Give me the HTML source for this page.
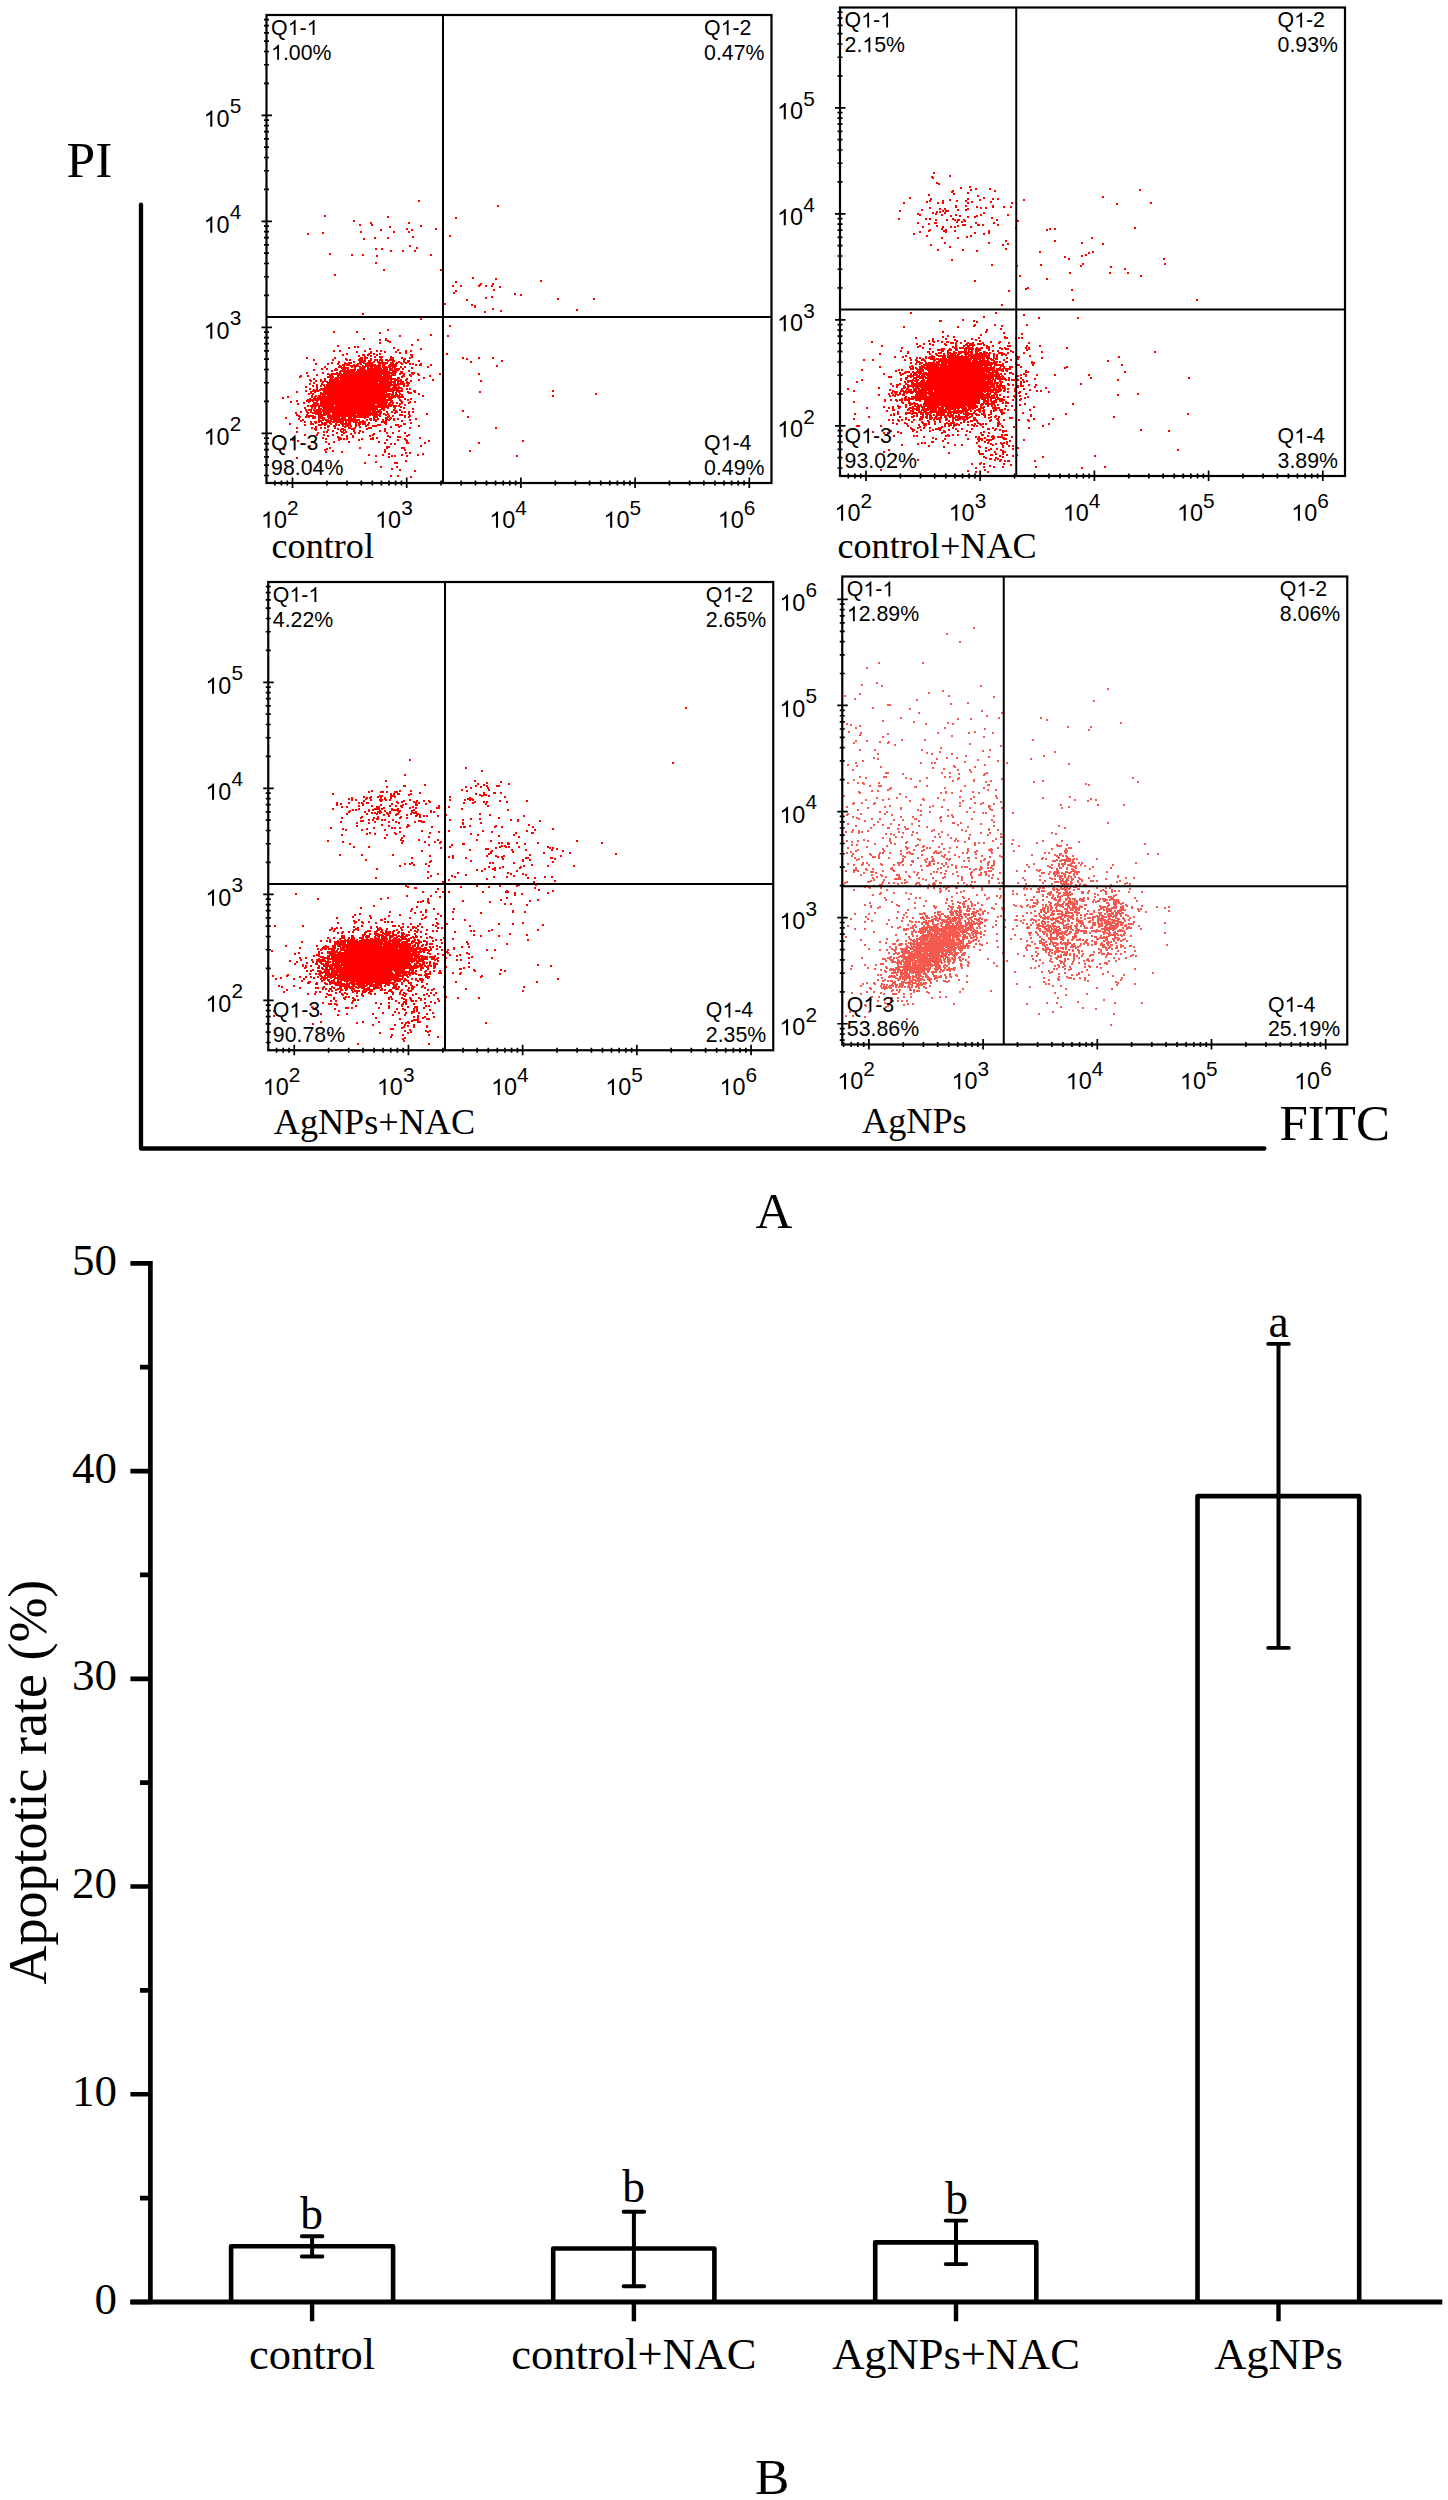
<!DOCTYPE html>
<html><head><meta charset="utf-8"><title>Figure</title>
<style>html,body{margin:0;padding:0;background:#fff;}svg{display:block;}</style>
</head><body>
<svg width="1448" height="2500" viewBox="0 0 1448 2500">
<rect width="1448" height="2500" fill="#fff"/>
<defs><path id="one" d="M763 0L583 0L583 1147Q518 1085 412.5 1023Q307 961 223 930L223 1104Q374 1175 487 1276Q600 1377 647 1472L763 1472Z"/></defs>
<path d="M418 200.5h2M418 201.5h2M497 205.5h2M497 206.5h2M324 215.5h2M324 216.5h2m61 0h2M387 217.5h2m66 0h2M455 218.5h2M353 220.5h2M353 221.5h2M370 222.5h2m36 0h2M370 223.5h2m36 0h2M359 224.5h2m10 0h2M359 225.5h2m10 0h2m47 0h2M389 226.5h2m29 0h2M389 227.5h2M406 228.5h2m27 0h2M380 229.5h2m24 0h2m3 0h2m22 0h2M380 230.5h2m29 0h2M360 231.5h2m31 0h2m13 0h2M322 232.5h2m36 0h2m31 0h2m13 0h2M307 233.5h2m13 0h2M307 234.5h2M449 235.5h2M412 236.5h2m35 0h2M374 237.5h2m11 0h2m23 0h2M363 238.5h2m9 0h2m11 0h2M363 239.5h2M409 245.5h2M409 246.5h2M416 247.5h2M375 248.5h2m4 0h2m33 0h2M375 249.5h2m4 0h2M390 250.5h2m10 0h2m10 0h2M390 251.5h2m10 0h2m10 0h2M329 253.5h2M329 254.5h2m20 0h2m9 0h2m66 0h2M351 255.5h2m9 0h2m12 0h2m52 0h2M376 256.5h2M375 262.5h2M375 263.5h2M383 269.5h2m55 0h2M383 270.5h2m55 0h2M334 274.5h2M334 275.5h2M472 277.5h2M472 278.5h2m21 0h2M495 279.5h2M540 280.5h2M455 281.5h2m83 0h2M455 282.5h2M480 283.5h2m10 0h2M479 284.5h3m10 0h2M452 285.5h2m6 0h2m16 0h3m4 0h2m4 0h2M452 286.5h2m6 0h2m16 0h2m5 0h2m4 0h2m6 0h2M499 287.5h2M493 289.5h2M455 290.5h2m36 0h2M455 291.5h2M453 292.5h2M453 293.5h2m59 0h2M514 294.5h2m4 0h2M520 295.5h2M491 296.5h2M485 297.5h2m4 0h2M485 298.5h2m70 0h2m34 0h2M466 299.5h2m89 0h2m34 0h2M466 300.5h2M444 303.5h2M444 304.5h2m25 0h2M471 305.5h2m1 0h2M474 306.5h2M474 307.5h2M492 308.5h2M492 309.5h2m82 0h2M500 310.5h2m74 0h2M484 311.5h2m14 0h2M484 312.5h2M362 313.5h2M362 314.5h2M420 318.5h2M420 319.5h2M449 325.5h2M449 326.5h2M387 329.5h2M387 330.5h2M333 331.5h2m21 0h2M333 332.5h2m21 0h2m21 0h2M379 333.5h2M430 334.5h2M399 335.5h2m29 0h2m15 0h2M399 336.5h2m46 0h2M363 338.5h2m20 0h2M363 339.5h2m14 0h2m4 0h2m30 0h2M379 340.5h2m4 0h4m28 0h2M387 341.5h4M379 342.5h2m8 0h2M379 343.5h2M411 344.5h2M337 345.5h2m72 0h2M337 346.5h2m15 0h2m1 0h2M348 347.5h2m4 0h2m1 0h2m34 0h2M348 348.5h2m19 0h2m22 0h2m25 0h2M369 349.5h2m26 0h2m21 0h2M333 350.5h2m4 0h2m23 0h2m10 0h2m2 0h2m15 0h2m6 0h2m3 0h2M333 351.5h2m4 0h2m15 0h2m6 0h2m4 0h2m4 0h2m2 0h2m2 0h2m9 0h2m8 0h2m3 0h2M356 352.5h2m12 0h2m12 0h2m9 0h2m2 0h2m4 0h2M346 353.5h2m20 0h4m1 0h2m4 0h2m18 0h2m4 0h2m39 0h2M342 354.5h2m2 0h2m14 0h3m2 0h3m3 0h2m1 0h2m1 0h2m29 0h3m33 0h2M342 355.5h2m14 0h2m2 0h3m2 0h2m1 0h2m4 0h2m32 0h3M358 356.5h2m4 0h2m4 0h2m2 0h2m3 0h4m7 0h2m19 0h2M306 357.5h2m26 0h2m24 0h3m1 0h4m6 0h2m3 0h4m7 0h4m7 0h2m6 0h4m49 0h2m14 0h2m12 0h2M306 358.5h2m26 0h2m9 0h2m12 0h4m1 0h4m2 0h2m8 0h2m8 0h4m7 0h2m1 0h2m3 0h2m51 0h2m2 0h2m10 0h2m12 0h2M313 359.5h2m17 0h2m11 0h3m1 0h2m7 0h5m1 0h2m4 0h2m2 0h4m1 0h4m2 0h3m1 0h5m9 0h3m60 0h2M313 360.5h2m17 0h2m12 0h2m1 0h2m7 0h8m2 0h4m2 0h4m1 0h4m2 0h10m8 0h2m2 0h3m8 0h2m81 0h2M338 361.5h2m13 0h2m4 0h7m2 0h3m2 0h2m2 0h3m1 0h2m4 0h2m3 0h3m3 0h2m3 0h2m2 0h3m8 0h2m50 0h2m29 0h2M331 362.5h2m5 0h2m4 0h2m2 0h4m1 0h2m4 0h6m2 0h8m2 0h11m2 0h4m2 0h6m1 0h6m61 0h2M315 363.5h2m10 0h2m2 0h2m4 0h2m5 0h8m5 0h5m1 0h10m5 0h10m2 0h4m1 0h3m2 0h3m2 0h2m2 0h2m1 0h2m6 0h2M315 364.5h2m10 0h2m8 0h2m3 0h8m3 0h2m1 0h3m1 0h2m3 0h11m2 0h3m1 0h4m3 0h8m4 0h2m6 0h2m1 0h2m1 0h2m2 0h3m8 0h2M339 365.5h2m1 0h3m1 0h13m3 0h2m1 0h16m1 0h3m3 0h9m18 0h2m2 0h3m8 0h2m64 0h2M324 366.5h2m12 0h4m1 0h2m5 0h11m1 0h19m1 0h5m1 0h9m3 0h2m2 0h2m21 0h2m67 0h2M324 367.5h2m12 0h11m2 0h2m1 0h2m3 0h7m1 0h2m1 0h3m1 0h7m1 0h9m1 0h4m4 0h2m2 0h2m5 0h2m14 0h2m13 0h2M321 368.5h2m3 0h2m7 0h2m4 0h8m5 0h2m3 0h6m2 0h15m1 0h5m1 0h4m1 0h6m2 0h2m7 0h2m29 0h2M313 369.5h2m6 0h2m3 0h2m6 0h4m4 0h4m1 0h2m1 0h6m1 0h9m1 0h21m1 0h4m1 0h6m2 0h2M313 370.5h2m16 0h2m1 0h4m2 0h16m1 0h31m1 0h10m9 0h2M331 371.5h2m6 0h16m1 0h34m2 0h5m3 0h3m5 0h2M306 372.5h2m14 0h2m12 0h2m1 0h2m2 0h54m3 0h3m8 0h4M306 373.5h2m14 0h2m3 0h2m2 0h11m1 0h53m3 0h6m6 0h4m2 0h2m20 0h2m37 0h2M316 374.5h2m9 0h63m1 0h5m3 0h2m2 0h2m4 0h2m1 0h2m3 0h3m19 0h2m37 0h2M300 375.5h2m5 0h2m7 0h2m11 0h4m4 0h45m1 0h13m6 0h3m4 0h3m6 0h2m9 0h2M299 376.5h3m5 0h2m18 0h7m3 0h2m1 0h52m9 0h4m5 0h2m17 0h2M299 377.5h2m26 0h7m1 0h57m5 0h3m1 0h2m20 0h2M313 378.5h2m9 0h2m4 0h3m1 0h62m1 0h3m6 0h2m15 0h2M309 379.5h2m2 0h2m5 0h2m2 0h2m3 0h10m1 0h59m1 0h2m3 0h3m10 0h2m12 0h2M309 380.5h3m3 0h2m3 0h2m2 0h2m3 0h60m1 0h2m2 0h8m3 0h2m3 0h2m6 0h2m12 0h2m46 0h2M310 381.5h2m3 0h2m3 0h8m1 0h67m1 0h7m2 0h2m2 0h2m68 0h2M313 382.5h2m7 0h2m2 0h52m1 0h17m1 0h2m1 0h4m2 0h4M309 383.5h2m2 0h2m6 0h2m4 0h65m1 0h3m1 0h8m1 0h4M309 384.5h2m5 0h2m3 0h4m1 0h79m2 0h2M312 385.5h2m2 0h2m2 0h2m1 0h2m1 0h73m4 0h2m1 0h3M305 386.5h2m5 0h2m2 0h2m2 0h2m2 0h67m2 0h4m1 0h2m3 0h2m1 0h2M305 387.5h2m9 0h2m6 0h66m2 0h10M309 388.5h2m5 0h2m2 0h83m3 0h2m1 0h2M309 389.5h2m2 0h2m1 0h2m1 0h80m2 0h2m3 0h2m1 0h2M305 390.5h2m5 0h9m1 0h81m10 0h3m136 0h2M296 391.5h2m7 0h2m3 0h9m4 0h71m2 0h7m4 0h2m4 0h3m63 0h2m71 0h2M296 392.5h2m12 0h2m2 0h2m4 0h2m1 0h64m5 0h2m1 0h2m1 0h2m7 0h5m2 0h2m63 0h2M308 393.5h6m6 0h65m1 0h5m1 0h2m1 0h2m2 0h2m7 0h4m6 0h2m175 0h2M308 394.5h2m2 0h2m6 0h74m1 0h3m1 0h4m15 0h2m175 0h2M311 395.5h2m2 0h2m1 0h3m1 0h4m1 0h63m1 0h9m1 0h2m19 0h2m128 0h2M287 396.5h2m22 0h2m1 0h3m1 0h86m18 0h2m128 0h2M282 397.5h2m3 0h2m22 0h2m1 0h2m1 0h79m1 0h7M282 398.5h2m25 0h2m2 0h73m2 0h5m5 0h2m4 0h2m4 0h2M307 399.5h85m7 0h2m3 0h2m1 0h2m1 0h2M296 400.5h2m8 0h13m1 0h73m6 0h3m5 0h2M290 401.5h2m4 0h2m8 0h5m1 0h2m2 0h2m2 0h68m2 0h3m7 0h3m6 0h2m3 0h2M290 402.5h2m11 0h2m3 0h2m3 0h5m2 0h68m1 0h5m2 0h2m3 0h2m5 0h3m3 0h2M297 403.5h2m4 0h2m8 0h6m1 0h67m1 0h3m1 0h2m2 0h2m1 0h4m5 0h2M297 404.5h2m13 0h7m1 0h55m2 0h10m1 0h5m6 0h2m3 0h2M307 405.5h2m1 0h24m1 0h62m1 0h2m4 0h2M307 406.5h2m1 0h7m1 0h74m1 0h4m1 0h4M304 407.5h2m5 0h2m1 0h2m2 0h2m2 0h67m4 0h3m4 0h2m1 0h2M304 408.5h2m5 0h2m1 0h2m2 0h4m1 0h55m3 0h4m2 0h2m5 0h2m7 0h2m7 0h2M305 409.5h2m1 0h4m1 0h2m1 0h62m1 0h6m8 0h2m4 0h2m11 0h2M305 410.5h2m1 0h4m1 0h8m1 0h54m1 0h4m2 0h2m8 0h4m2 0h2m61 0h2M300 411.5h2m4 0h2m2 0h2m2 0h57m1 0h10m4 0h2m3 0h2m2 0h3m3 0h2m1 0h2m2 0h2m2 0h2m48 0h2M295 412.5h2m3 0h2m4 0h3m1 0h12m1 0h59m4 0h2m3 0h2m1 0h4m3 0h2m1 0h2m2 0h2m2 0h2M295 413.5h2m10 0h2m3 0h10m1 0h7m2 0h46m1 0h3m1 0h2m2 0h2m5 0h2m12 0h2m16 0h2M296 414.5h2m8 0h2m7 0h16m1 0h24m1 0h24m2 0h6m10 0h4m5 0h2m16 0h2M296 415.5h4m6 0h8m4 0h8m1 0h44m1 0h9m4 0h2m1 0h2m2 0h2m5 0h4m1 0h2m3 0h2M298 416.5h3m4 0h11m2 0h5m4 0h42m4 0h5m1 0h2m6 0h3m2 0h2m10 0h2m2 0h3m56 0h2M285 417.5h2m12 0h2m4 0h2m1 0h2m2 0h4m2 0h7m2 0h13m1 0h5m2 0h4m1 0h16m4 0h5m7 0h4m1 0h2m12 0h2m2 0h2m57 0h2M285 418.5h2m11 0h2m12 0h4m2 0h7m3 0h18m2 0h8m8 0h2m3 0h3m1 0h2m2 0h2m6 0h3m1 0h3m1 0h2m2 0h2m16 0h2M298 419.5h2m2 0h2m14 0h2m2 0h7m1 0h30m6 0h2m1 0h3m1 0h6m3 0h2m1 0h6m2 0h2m2 0h2m10 0h2m4 0h2M300 420.5h4m14 0h6m1 0h7m1 0h27m2 0h2m2 0h2m2 0h2m1 0h4m5 0h2m1 0h2m1 0h2m3 0h2m6 0h2m6 0h2M300 421.5h2m2 0h2m4 0h2m2 0h3m1 0h4m4 0h18m1 0h2m1 0h10m1 0h7m9 0h2m4 0h6m14 0h2M304 422.5h2m4 0h2m2 0h3m1 0h2m1 0h2m1 0h7m1 0h3m1 0h8m1 0h2m1 0h3m2 0h13m2 0h2m11 0h6m23 0h2M289 423.5h2m19 0h4m1 0h2m4 0h6m2 0h3m3 0h2m3 0h11m4 0h2m1 0h3m1 0h4m2 0h2m14 0h3m16 0h3m4 0h2M289 424.5h2m13 0h2m4 0h4m4 0h9m3 0h2m3 0h2m1 0h2m1 0h10m4 0h2m1 0h3m1 0h4m1 0h2m8 0h4m4 0h2m8 0h4m4 0h3M304 425.5h2m12 0h4m2 0h2m1 0h3m3 0h4m1 0h2m2 0h2m1 0h7m3 0h2m1 0h2m5 0h4m3 0h9m14 0h4m1 0h2m16 0h2M315 426.5h2m10 0h3m3 0h3m6 0h7m1 0h2m3 0h2m2 0h2m4 0h2m5 0h5m13 0h2m6 0h4m16 0h2M296 427.5h2m13 0h2m2 0h2m3 0h2m2 0h2m1 0h2m5 0h2m8 0h2m2 0h3m3 0h2m3 0h2m7 0h4m18 0h2m6 0h2m9 0h2m84 0h2M296 428.5h2m13 0h2m1 0h3m3 0h2m2 0h2m8 0h2m1 0h2m2 0h3m4 0h8m10 0h6m12 0h2m23 0h2m84 0h2M314 429.5h3m10 0h2m8 0h2m1 0h6m5 0h4m11 0h2m16 0h2M315 430.5h2m10 0h2m3 0h2m6 0h2m1 0h3m7 0h2m4 0h2m18 0h2m3 0h2m12 0h2M296 431.5h2m25 0h2m1 0h2m4 0h2m6 0h4m1 0h2m6 0h2m4 0h2m1 0h2m15 0h2m3 0h2m12 0h2M296 432.5h2m19 0h2m4 0h2m1 0h2m8 0h2m3 0h6m7 0h2m2 0h2m2 0h2m22 0h2m4 0h2m10 0h2M317 433.5h2m17 0h2m5 0h2m5 0h2m2 0h2m2 0h2m13 0h2m11 0h2m4 0h2m10 0h2M304 434.5h2m10 0h2m5 0h2m7 0h2m7 0h2m7 0h2m20 0h3m33 0h2M304 435.5h2m10 0h2m5 0h2m2 0h2m3 0h2m7 0h2m3 0h2m4 0h2m15 0h2m1 0h2m13 0h2m17 0h4M281 436.5h2m44 0h2m8 0h2m7 0h2m4 0h2m15 0h2m16 0h4m6 0h4m5 0h2M281 437.5h2m39 0h2m13 0h4m5 0h2m4 0h2m18 0h2m2 0h2m11 0h2m6 0h4m18 0h2M322 438.5h2m1 0h2m11 0h4m1 0h2m1 0h2m13 0h2m7 0h4m2 0h2m26 0h2m13 0h2M292 439.5h2m31 0h2m11 0h4m1 0h2m1 0h2m10 0h2m1 0h2m7 0h4m12 0h2m9 0h2m5 0h3M292 440.5h2m3 0h2m15 0h2m22 0h2m18 0h2m26 0h2m9 0h2m6 0h3m20 0h2m92 0h2M297 441.5h2m12 0h2m1 0h2m9 0h2m6 0h2m13 0h2m28 0h2m26 0h2m20 0h2m92 0h2M311 442.5h2m12 0h2m6 0h2m13 0h2m28 0h2m4 0h2m20 0h3m15 0h2m52 0h2M301 443.5h2m25 0h2m54 0h2m4 0h2m2 0h2m10 0h3m15 0h2m52 0h2M301 444.5h2m25 0h2m60 0h2m2 0h2M309 445.5h2m109 0h2M309 446.5h2m75 0h4m30 0h2M329 447.5h2m28 0h2m25 0h4m11 0h4M283 448.5h2m41 0h2m1 0h2m28 0h2m25 0h2m13 0h4M283 449.5h2m39 0h4m56 0h2m18 0h2M324 450.5h2m6 0h2m50 0h2m18 0h2m63 0h2M325 451.5h2m5 0h2m7 0h2m41 0h2m83 0h2M325 452.5h2m14 0h2m41 0h2m19 0h2m2 0h2M388 453.5h2m15 0h2m2 0h2m11 0h2M368 454.5h2m12 0h2m4 0h2m11 0h2m14 0h2m3 0h2M368 455.5h2m5 0h2m5 0h2m7 0h2m1 0h2m5 0h2m3 0h2m9 0h2m97 0h2M375 456.5h2m11 0h2m1 0h2m1 0h2m10 0h2m108 0h2M296 457.5h2m90 0h2M296 458.5h2M405 460.5h2M375 461.5h2m28 0h2M364 462.5h2m9 0h2m17 0h4M364 463.5h2m28 0h4M319 466.5h2m59 0h2m14 0h2M319 467.5h2m59 0h2m14 0h2M391 468.5h2M391 469.5h2m6 0h2M399 470.5h2m13 0h2M414 471.5h2M390 475.5h2m5 0h2M390 476.5h2m5 0h2m11 0h2M410 477.5h2" stroke="#ff0000" stroke-width="1" fill="none" shape-rendering="crispEdges"/>
<path d="M933 172.5h2M933 173.5h2M949 175.5h2M931 176.5h2m16 0h2M931 177.5h3M932 178.5h2M936 182.5h2M936 183.5h4M938 184.5h2M969 186.5h2M960 187.5h2m7 0h2M960 188.5h2m13 0h2m12 0h2M970 189.5h2m3 0h2m12 0h2m148 0h2M952 190.5h2m16 0h2m22 0h2m143 0h2M951 191.5h3m40 0h2M951 192.5h2m14 0h2M953 193.5h2m12 0h2M928 194.5h2m23 0h2M928 195.5h2m47 0h2M977 196.5h2m123 0h2M909 197.5h2m72 0h2m117 0h2M909 198.5h2m19 0h2m35 0h2m14 0h2m7 0h2m3 0h2M930 199.5h2m17 0h2m16 0h2m10 0h2m11 0h2m3 0h2m24 0h2M929 200.5h2m11 0h2m5 0h2m5 0h2m7 0h2m12 0h2m42 0h2M926 201.5h2m1 0h2m11 0h2m12 0h2m7 0h2m4 0h2m17 0h2M903 202.5h2m21 0h2m9 0h2m3 0h2m23 0h2m2 0h2m17 0h2m19 0h2m137 0h2M903 203.5h2m32 0h2m3 0h2m23 0h2m42 0h2m103 0h2m32 0h2M1116 204.5h2M955 205.5h2m8 0h2m25 0h2M955 206.5h2m8 0h2m9 0h2m14 0h2m9 0h2m5 0h2M929 207.5h2m24 0h2m19 0h2m2 0h2m3 0h2m5 0h2m9 0h2m5 0h2M929 208.5h2m8 0h2m3 0h2m21 0h2m11 0h2m3 0h2M921 209.5h2m16 0h2m3 0h2m11 0h2m6 0h4M899 210.5h2m20 0h2m19 0h2m1 0h4m8 0h2m6 0h2M899 211.5h2m35 0h2m1 0h2m1 0h2m1 0h4M932 212.5h2m2 0h2m1 0h2m3 0h2m37 0h2M917 213.5h2m13 0h2m1 0h2m7 0h2m37 0h2M917 214.5h4m14 0h2m4 0h2m12 0h2m23 0h2m25 0h2M919 215.5h2m20 0h2m7 0h2m3 0h2m2 0h2m15 0h2m2 0h2m25 0h2M950 216.5h2m7 0h2m6 0h2m5 0h4M967 217.5h2m5 0h2m15 0h2M898 218.5h2m25 0h2m2 0h2m21 0h2m37 0h2M898 219.5h2m25 0h2m2 0h2m4 0h2m9 0h2m4 0h4m1 0h3m3 0h2m31 0h2M935 220.5h2m9 0h2m6 0h2m1 0h3m3 0h3m30 0h2m19 0h2M956 221.5h2m3 0h2m1 0h2m51 0h2M917 222.5h2m15 0h3m19 0h2m3 0h2m12 0h2m16 0h2M917 223.5h2m9 0h2m4 0h3m38 0h2m16 0h2M928 224.5h2m32 0h4m11 0h3m2 0h2m13 0h2M936 225.5h2m19 0h2m3 0h4m11 0h3m2 0h2m13 0h2M922 226.5h2m12 0h2m4 0h2m6 0h2m2 0h2m1 0h2m11 0h2M922 227.5h2m18 0h2m6 0h2m2 0h2m14 0h2m43 0h2m117 0h2M941 228.5h2m72 0h2m32 0h2m3 0h2m78 0h2M929 229.5h2m10 0h2m2 0h2m99 0h2m1 0h2m3 0h2M928 230.5h3m12 0h4m7 0h2m32 0h2m56 0h2M919 231.5h2m7 0h2m13 0h4m7 0h2m32 0h2M919 232.5h2m24 0h2m27 0h2m12 0h2M913 233.5h2m59 0h2m7 0h2m3 0h2M913 234.5h2m68 0h2M926 235.5h2m42 0h2M926 236.5h2m38 0h2m2 0h2M941 237.5h2m14 0h2m7 0h2m123 0h2M941 238.5h2m14 0h2m132 0h2M1005 240.5h2m47 0h2M1005 241.5h2m47 0h2M944 242.5h2m42 0h2m91 0h2M944 243.5h2m42 0h2m17 0h2m72 0h2m19 0h2M930 244.5h2m70 0h2m3 0h2m93 0h2M930 245.5h2m70 0h2M949 246.5h2M949 247.5h2M1005 248.5h2M937 249.5h2m23 0h2m41 0h2M937 250.5h2m23 0h2m12 0h2M976 251.5h2m61 0h2m51 0h2M1039 252.5h2m47 0h2m2 0h2M1088 253.5h2M1085 254.5h2M1081 255.5h2m2 0h2M1064 256.5h2m15 0h2M1064 257.5h2M1068 258.5h2m93 0h2M951 259.5h2m115 0h2m93 0h2M951 260.5h2M1082 263.5h2m80 0h2M991 264.5h2m47 0h2m40 0h2m80 0h2M991 265.5h2m23 0h2m22 0h2m38 0h2M1016 266.5h2m62 0h2m28 0h2M1110 267.5h2M1124 268.5h2M1124 269.5h2M1069 272.5h2m38 0h2m16 0h2M1069 273.5h2m38 0h2m16 0h2M1019 275.5h2m119 0h2M1019 276.5h2m119 0h2M1046 278.5h2M1046 279.5h2M974 280.5h2M974 281.5h2M1027 287.5h2M1025 288.5h4M1025 289.5h2m44 0h2M1008 290.5h2m61 0h2M1008 291.5h2M1072 299.5h2m122 0h2M1072 300.5h2m122 0h2M1001 304.5h2M1001 305.5h2M910 312.5h2m83 0h2M910 313.5h2m83 0h2M1023 314.5h2M1023 315.5h2M983 316.5h2M983 317.5h2m53 0h2m37 0h2M1038 318.5h2m37 0h2M962 319.5h2M939 320.5h3m20 0h2m9 0h2M939 321.5h3m31 0h2m1 0h2M976 322.5h2M974 324.5h2m18 0h2m30 0h2M973 325.5h3m18 0h2m5 0h2m23 0h2M903 326.5h2m52 0h2m14 0h2m26 0h2M903 327.5h2m52 0h2M1000 328.5h2M986 329.5h2m12 0h2M986 330.5h2M942 331.5h2m41 0h2M942 332.5h2m41 0h2m16 0h2M1003 333.5h2m16 0h2M980 334.5h2m39 0h2M947 335.5h2m31 0h2M942 336.5h2m3 0h2m4 0h2m49 0h2M915 337.5h2m25 0h2m9 0h2m23 0h2m24 0h4m7 0h2m1 0h2m1 0h2M915 338.5h2m15 0h2m11 0h2m24 0h2m5 0h2m24 0h4m7 0h2m1 0h2m1 0h2M932 339.5h2m11 0h2m7 0h2m15 0h2m2 0h2M928 340.5h2m2 0h2m3 0h2m15 0h4m6 0h2m9 0h2m2 0h2M871 341.5h2m55 0h2m2 0h3m2 0h2m2 0h2m3 0h3m7 0h2m6 0h2m13 0h2m9 0h2m7 0h2M871 342.5h2m60 0h2m6 0h2m3 0h3m1 0h4m1 0h2m3 0h2m5 0h2m3 0h2m8 0h2m6 0h2m6 0h3m7 0h2m18 0h2M916 343.5h2m5 0h2m4 0h2m13 0h2m4 0h4m1 0h2m3 0h2m4 0h8m3 0h7m14 0h2m8 0h2m18 0h2M916 344.5h2m5 0h2m4 0h2m1 0h2m10 0h3m8 0h2m8 0h3m1 0h6m2 0h5m1 0h2M881 345.5h2m36 0h2m11 0h2m11 0h2m8 0h2m6 0h12m8 0h2m1 0h2m4 0h2m13 0h4m15 0h2m11 0h2M881 346.5h2m34 0h4m31 0h2m1 0h2m6 0h2m2 0h3m2 0h2m12 0h4m2 0h2m13 0h4m15 0h2m11 0h2M901 347.5h2m14 0h2m3 0h2m28 0h5m2 0h5m1 0h8m3 0h2m2 0h3m3 0h4m9 0h2m3 0h2m19 0h2m1 0h2m36 0h2M901 348.5h2m19 0h2m5 0h2m10 0h4m4 0h2m3 0h4m1 0h15m1 0h8m3 0h4m9 0h4m1 0h5m16 0h2m1 0h2m36 0h2M929 349.5h2m6 0h8m3 0h4m3 0h3m6 0h3m1 0h6m1 0h6m7 0h2m11 0h2m2 0h4m17 0h4M900 350.5h2m35 0h7m3 0h5m3 0h3m6 0h3m1 0h2m1 0h2m2 0h6m7 0h2m2 0h2m3 0h2m11 0h2m14 0h2M900 351.5h2m5 0h2m18 0h3m2 0h2m7 0h3m3 0h2m4 0h2m3 0h9m1 0h5m2 0h4m4 0h3m6 0h2m3 0h2m11 0h4m27 0h2m111 0h2M907 352.5h2m18 0h3m2 0h2m4 0h4m5 0h4m2 0h4m1 0h15m2 0h3m1 0h3m1 0h5m1 0h2m7 0h5m4 0h2m3 0h2m9 0h2m16 0h2m111 0h2M879 353.5h2m26 0h2m20 0h2m4 0h2m1 0h4m1 0h2m2 0h10m1 0h4m2 0h5m1 0h3m2 0h16m2 0h2m3 0h7m2 0h2m14 0h2M879 354.5h2m48 0h2m4 0h3m5 0h2m2 0h2m1 0h6m1 0h3m4 0h23m1 0h2m3 0h2m1 0h2m3 0h6m8 0h2M905 355.5h2m24 0h2m3 0h10m1 0h12m2 0h2m2 0h2m1 0h22m3 0h2m1 0h2m3 0h2m2 0h2m8 0h2m12 0h2M894 356.5h2m6 0h2m1 0h2m18 0h2m2 0h6m3 0h8m1 0h43m3 0h2m1 0h2m18 0h4m9 0h2m87 0h2M894 357.5h2m6 0h2m5 0h2m5 0h2m1 0h2m4 0h2m1 0h7m7 0h4m1 0h22m1 0h15m1 0h4m3 0h2m1 0h2m8 0h2m8 0h4m21 0h2m75 0h2M909 358.5h2m5 0h2m1 0h2m1 0h2m1 0h2m1 0h7m1 0h3m1 0h7m1 0h37m1 0h6m1 0h5m8 0h2m9 0h2m22 0h2M863 359.5h2m7 0h2m30 0h2m4 0h2m3 0h2m4 0h4m5 0h42m1 0h8m1 0h3m2 0h2m1 0h4m1 0h3m5 0h2m5 0h2m5 0h2M863 360.5h2m7 0h2m30 0h2m4 0h2m3 0h3m3 0h5m7 0h3m2 0h33m1 0h6m1 0h10m2 0h4m8 0h2m5 0h2m95 0h2M916 361.5h4m4 0h2m7 0h2m1 0h35m1 0h18m3 0h5m1 0h2m4 0h3m23 0h2m74 0h2M910 362.5h2m4 0h7m2 0h2m1 0h7m1 0h4m1 0h57m1 0h2m4 0h3m7 0h2m14 0h4M910 363.5h2m3 0h2m2 0h4m2 0h15m1 0h56m5 0h2m11 0h2m14 0h4M915 364.5h2m2 0h2m2 0h24m1 0h45m1 0h10m12 0h4m12 0h2m87 0h2M911 365.5h2m8 0h71m2 0h10m12 0h4m12 0h2m87 0h2M879 366.5h2m28 0h5m5 0h6m1 0h13m1 0h43m1 0h4m2 0h2m1 0h2m5 0h5m4 0h4m7 0h2m44 0h2M879 367.5h2m28 0h2m1 0h2m1 0h2m2 0h76m4 0h2m2 0h2m4 0h4m7 0h2m42 0h4M910 368.5h4m1 0h3m1 0h4m1 0h71m1 0h5m1 0h9m53 0h2M861 369.5h2m35 0h2m1 0h2m7 0h4m2 0h8m1 0h70m1 0h8m1 0h6M861 370.5h2m32 0h2m1 0h2m1 0h2m14 0h7m3 0h77m1 0h3m17 0h2M895 371.5h2m8 0h5m2 0h2m2 0h8m4 0h62m2 0h6m3 0h3m2 0h2m17 0h4m95 0h2M899 372.5h2m3 0h6m2 0h10m1 0h4m1 0h57m1 0h13m10 0h3m13 0h4m95 0h2M883 373.5h2m14 0h2m1 0h4m4 0h2m1 0h4m1 0h69m1 0h6m1 0h4m1 0h2m2 0h2m3 0h5m9 0h2M883 374.5h2m15 0h4m6 0h2m1 0h5m1 0h2m1 0h80m2 0h2m6 0h2m6 0h2m1 0h4m9 0h2m16 0h2m32 0h2M900 375.5h2m5 0h13m1 0h4m1 0h74m1 0h2m12 0h4m1 0h2m3 0h2m9 0h2m16 0h2m32 0h2M888 376.5h4m15 0h7m2 0h10m1 0h77m11 0h4m6 0h2M888 377.5h4m13 0h3m2 0h2m1 0h81m1 0h6m1 0h3m3 0h2m5 0h2m3 0h2m68 0h2m96 0h2M900 378.5h2m3 0h3m5 0h4m2 0h5m1 0h69m1 0h11m2 0h2m5 0h3m2 0h2m12 0h2m54 0h2m96 0h2M861 379.5h2m37 0h2m3 0h2m5 0h2m1 0h4m3 0h3m2 0h64m1 0h4m1 0h10m1 0h2m1 0h4m1 0h3m3 0h2m10 0h2m81 0h2M861 380.5h2m37 0h2m5 0h12m2 0h4m1 0h60m1 0h6m1 0h2m3 0h2m4 0h2m1 0h2m1 0h4m1 0h3m3 0h2m2 0h2m89 0h2M856 381.5h2m46 0h2m1 0h6m1 0h4m2 0h5m1 0h67m1 0h2m3 0h4m17 0h2m1 0h2m1 0h2M856 382.5h2m46 0h2m1 0h2m2 0h3m2 0h77m1 0h5m1 0h3m17 0h2m1 0h2M890 383.5h2m7 0h2m4 0h2m4 0h88m1 0h2m5 0h2m11 0h2m58 0h2M890 384.5h2m4 0h5m4 0h4m2 0h84m1 0h2m1 0h3m5 0h3m2 0h2m6 0h2m6 0h2m5 0h2m43 0h2M892 385.5h2m2 0h3m4 0h2m2 0h82m1 0h5m1 0h9m3 0h2m2 0h2m3 0h2m1 0h4m4 0h2m5 0h2M892 386.5h2m2 0h2m5 0h3m1 0h88m1 0h9m12 0h2m1 0h4m10 0h2M878 387.5h2m16 0h2m5 0h3m1 0h2m3 0h2m1 0h4m1 0h75m1 0h5m1 0h4m11 0h2m15 0h2m9 0h2M847 388.5h2m29 0h2m21 0h4m1 0h3m4 0h7m1 0h70m2 0h4m1 0h3m1 0h4m1 0h2m5 0h2m7 0h2m20 0h2M847 389.5h2m40 0h2m10 0h2m3 0h6m1 0h4m1 0h84m2 0h2m1 0h2m5 0h3m6 0h2m4 0h2M853 390.5h2m34 0h2m1 0h2m6 0h4m1 0h2m1 0h4m1 0h4m1 0h15m1 0h68m1 0h3m8 0h3m12 0h2m5 0h2m2 0h2M853 391.5h2m37 0h6m2 0h27m1 0h5m1 0h60m1 0h6m2 0h2m2 0h2m5 0h2m3 0h2m15 0h2m2 0h2m6 0h2M891 392.5h2m1 0h4m1 0h2m2 0h11m1 0h68m1 0h2m1 0h2m1 0h9m8 0h2m9 0h3m27 0h2M888 393.5h2m1 0h2m1 0h3m2 0h2m2 0h2m1 0h2m2 0h3m3 0h68m2 0h5m3 0h3m21 0h2m5 0h2m110 0h2M878 394.5h2m8 0h2m2 0h2m1 0h6m1 0h3m10 0h12m1 0h63m2 0h5m1 0h2m24 0h2m90 0h2m18 0h2M878 395.5h2m9 0h2m1 0h4m1 0h2m3 0h3m10 0h12m2 0h61m1 0h4m1 0h2m1 0h2m12 0h2m4 0h2m96 0h2M889 396.5h2m3 0h2m9 0h2m4 0h84m1 0h2m5 0h2m2 0h2m4 0h3m3 0h2m6 0h2M904 397.5h3m1 0h2m1 0h88m4 0h2m2 0h2m5 0h2m8 0h2m1 0h2M901 398.5h2m1 0h3m1 0h81m1 0h6m1 0h6m17 0h2m2 0h2M884 399.5h2m4 0h2m3 0h2m2 0h4m1 0h10m1 0h65m1 0h5m1 0h2m1 0h2m3 0h10m7 0h2m5 0h3M884 400.5h2m4 0h2m3 0h3m1 0h4m1 0h6m5 0h6m3 0h56m3 0h6m1 0h2m1 0h4m2 0h6m7 0h2m5 0h2M853 401.5h2m29 0h2m10 0h2m3 0h2m5 0h2m9 0h2m3 0h56m3 0h6m1 0h7m2 0h4m2 0h2M853 402.5h2m46 0h3m4 0h3m2 0h2m9 0h56m3 0h2m1 0h3m2 0h6m5 0h2m1 0h4M902 403.5h2m4 0h10m5 0h57m1 0h14m7 0h2m1 0h4m15 0h2m46 0h2M905 404.5h2m2 0h4m1 0h5m1 0h2m1 0h53m4 0h4m1 0h10m2 0h2m20 0h2m3 0h2m46 0h2M897 405.5h2m6 0h2m2 0h2m3 0h2m1 0h5m1 0h55m2 0h3m4 0h2m2 0h2m1 0h2m1 0h2m6 0h2m4 0h2m6 0h2M883 406.5h2m7 0h2m3 0h4m4 0h2m5 0h27m2 0h25m1 0h11m2 0h2m1 0h2m2 0h2m2 0h2m1 0h2m9 0h2m4 0h2m20 0h2M866 407.5h2m15 0h2m3 0h2m2 0h2m4 0h3m4 0h2m2 0h5m2 0h4m1 0h4m2 0h17m1 0h22m1 0h10m2 0h5m7 0h8m33 0h2M866 408.5h2m20 0h2m2 0h2m4 0h2m8 0h12m2 0h15m1 0h6m1 0h15m1 0h6m1 0h8m2 0h6m8 0h8m4 0h2M892 409.5h3m12 0h3m2 0h8m1 0h16m1 0h18m1 0h2m3 0h9m1 0h2m2 0h5m2 0h2m8 0h4m2 0h4m1 0h2m1 0h2m5 0h2m13 0h2M886 410.5h2m4 0h3m12 0h2m1 0h4m2 0h4m1 0h8m1 0h7m1 0h9m1 0h3m2 0h16m1 0h2m2 0h7m1 0h3m5 0h2m1 0h4m2 0h4m4 0h2m5 0h2m13 0h2M886 411.5h2m9 0h2m11 0h4m4 0h4m1 0h4m2 0h18m1 0h20m2 0h2m2 0h2m2 0h3m1 0h3m5 0h2m1 0h2m5 0h3M897 412.5h2m6 0h6m1 0h5m1 0h46m1 0h4m4 0h2m4 0h2m2 0h2m5 0h2m8 0h5m17 0h2M854 413.5h2m37 0h2m2 0h2m6 0h13m2 0h4m1 0h4m1 0h2m4 0h9m2 0h5m1 0h6m1 0h2m1 0h14m4 0h4m5 0h2m9 0h4m17 0h2m41 0h2m120 0h2M854 414.5h2m34 0h2m1 0h2m2 0h2m6 0h2m4 0h2m3 0h2m2 0h4m1 0h6m2 0h2m1 0h9m2 0h2m1 0h4m4 0h2m3 0h10m2 0h5m1 0h5m2 0h4m9 0h2m27 0h2m33 0h2m120 0h2M890 415.5h2m1 0h2m18 0h2m1 0h2m4 0h2m2 0h2m1 0h3m1 0h2m1 0h18m1 0h2m1 0h2m5 0h4m2 0h2m3 0h4m3 0h3m2 0h2m5 0h2m33 0h2M868 416.5h2m29 0h2m10 0h4m1 0h2m2 0h4m1 0h3m1 0h3m3 0h3m2 0h2m2 0h3m1 0h6m1 0h13m1 0h4m11 0h2m4 0h2m2 0h3m1 0h2m30 0h2m81 0h2M868 417.5h2m29 0h2m4 0h2m4 0h3m6 0h4m1 0h3m1 0h4m1 0h3m1 0h4m2 0h3m2 0h2m1 0h19m2 0h3m8 0h2m2 0h4m2 0h2m2 0h2m9 0h4m100 0h2M853 418.5h2m50 0h2m12 0h4m3 0h2m1 0h4m1 0h8m3 0h3m4 0h4m1 0h8m1 0h3m4 0h3m12 0h2m6 0h3m10 0h4m20 0h2m17 0h2M853 419.5h2m33 0h2m2 0h2m3 0h2m2 0h2m2 0h2m1 0h2m3 0h2m4 0h4m6 0h3m1 0h2m1 0h5m4 0h3m4 0h2m1 0h6m1 0h6m5 0h4m13 0h2m4 0h3m4 0h2m13 0h2m7 0h2m4 0h2m17 0h2M888 420.5h2m2 0h2m3 0h3m1 0h2m5 0h2m3 0h2m4 0h2m6 0h2m4 0h2m4 0h2m4 0h2m1 0h2m2 0h2m1 0h4m4 0h3m4 0h8m11 0h3m5 0h2m4 0h2m13 0h2m7 0h3M898 421.5h2m11 0h2m8 0h2m4 0h3m4 0h2m3 0h2m7 0h2m2 0h2m9 0h2m2 0h2m1 0h3m3 0h2m11 0h2m7 0h2m28 0h2M892 422.5h2m10 0h2m5 0h2m8 0h3m4 0h2m4 0h2m3 0h2m5 0h2m2 0h5m5 0h2m1 0h2m2 0h2m8 0h2m18 0h3M892 423.5h2m2 0h2m6 0h4m14 0h5m1 0h2m4 0h2m8 0h11m1 0h2m2 0h2m12 0h2m1 0h4m1 0h2m1 0h2m10 0h4m47 0h2M896 424.5h2m8 0h2m10 0h2m3 0h4m1 0h2m4 0h2m8 0h2m2 0h4m1 0h7m7 0h2m2 0h2m1 0h2m3 0h5m1 0h2m10 0h4m47 0h2M856 425.5h4m20 0h2m25 0h2m9 0h2m3 0h4m17 0h2m2 0h4m1 0h4m1 0h2m7 0h2m2 0h4m1 0h2m2 0h2m15 0h2m2 0h2m39 0h2M856 426.5h4m20 0h2m25 0h2m10 0h2m3 0h2m15 0h2m1 0h2m2 0h2m3 0h2m18 0h2m1 0h2m4 0h2m13 0h2m2 0h3m9 0h2m27 0h2M910 427.5h2m5 0h4m2 0h2m4 0h2m7 0h5m9 0h2m28 0h2m8 0h2m8 0h2m9 0h2m13 0h2M910 428.5h3m4 0h2m4 0h2m4 0h2m4 0h7m10 0h2m1 0h2m4 0h2m8 0h2m14 0h3m2 0h2m1 0h2m31 0h2M911 429.5h4m5 0h2m10 0h2m1 0h6m7 0h2m5 0h2m4 0h2m8 0h2m14 0h3m4 0h3m2 0h2m139 0h2M890 430.5h2m20 0h3m5 0h2m7 0h2m1 0h2m5 0h2m2 0h2m3 0h2m7 0h2m7 0h2m26 0h2m3 0h2m1 0h5m133 0h2m26 0h2M872 431.5h2m16 0h2m5 0h2m13 0h2m2 0h2m11 0h2m12 0h3m11 0h2m7 0h2m1 0h2m12 0h2m17 0h5m161 0h2M872 432.5h2m9 0h2m2 0h2m8 0h2m1 0h2m14 0h2m23 0h5m23 0h2m9 0h2m1 0h2m3 0h2m12 0h2M883 433.5h2m2 0h2m11 0h2m39 0h2m37 0h2m6 0h2M947 434.5h2m3 0h2m3 0h2m6 0h2m14 0h3m17 0h2m1 0h4M893 435.5h2m18 0h2m1 0h2m27 0h5m2 0h2m3 0h2m6 0h2m14 0h3m3 0h2m3 0h2m7 0h2m1 0h4M875 436.5h2m16 0h2m18 0h2m1 0h2m5 0h2m20 0h2m1 0h2m25 0h2m1 0h2m7 0h2m2 0h4m2 0h6m8 0h2M875 437.5h2m46 0h2m7 0h2m41 0h2m1 0h2m4 0h2m5 0h4m2 0h8m6 0h2M932 438.5h2m1 0h2m7 0h2m21 0h2m8 0h6m1 0h2m6 0h3m7 0h5M935 439.5h2m7 0h2m21 0h2m8 0h6m3 0h8m9 0h4m16 0h2M942 440.5h2m34 0h2m1 0h2m3 0h6m17 0h2m12 0h2M931 441.5h3m8 0h2m34 0h2m4 0h2m2 0h2m16 0h2m1 0h2M921 442.5h2m1 0h2m5 0h3m13 0h2m27 0h2m6 0h2m1 0h2m11 0h2m1 0h2m1 0h2M917 443.5h2m2 0h2m1 0h2m21 0h2m27 0h2m9 0h2m1 0h2m3 0h2m3 0h5m1 0h2M901 444.5h2m14 0h2m35 0h2m5 0h2m27 0h4m1 0h2m4 0h2m3 0h2M901 445.5h2m25 0h2m24 0h2m5 0h2m15 0h2m12 0h2m8 0h2m4 0h2m2 0h2M928 446.5h2m13 0h2m33 0h3m21 0h2m4 0h2m2 0h2M943 447.5h2m34 0h2m4 0h2m15 0h2m13 0h2M985 448.5h2m3 0h2m4 0h2m14 0h2m3 0h2M888 449.5h2m98 0h4m4 0h2m2 0h2m10 0h2m163 0h2M888 450.5h2m88 0h2m5 0h2m1 0h2m10 0h4m173 0h2M883 451.5h2m93 0h2m5 0h2m7 0h2m6 0h4M883 452.5h2m63 0h2m28 0h2m14 0h2m6 0h4M948 453.5h2m29 0h5m11 0h2m5 0h2M979 454.5h5m6 0h3m2 0h2m5 0h2m2 0h2m8 0h2M895 455.5h2m93 0h3m6 0h2m5 0h2m4 0h2m2 0h2m76 0h2M895 456.5h2m86 0h2m14 0h2m1 0h2m8 0h2m28 0h2m50 0h2M983 457.5h4m8 0h2m5 0h2m38 0h2M985 458.5h2m2 0h3m3 0h4M917 459.5h2m70 0h3m2 0h2m1 0h2m1 0h2M917 460.5h2m75 0h2m3 0h3m2 0h2m1 0h3m24 0h2M999 461.5h2m3 0h2m1 0h3m24 0h2M980 462.5h2M971 463.5h2m6 0h3m1 0h2m18 0h2M971 464.5h2m6 0h2m2 0h2m18 0h2m5 0h2M989 465.5h2m19 0h2M895 466.5h2m86 0h2m4 0h2m2 0h2m7 0h2m31 0h2m67 0h2M895 467.5h2m78 0h2m6 0h2m8 0h2m7 0h2m31 0h2m44 0h2m21 0h2M975 468.5h2m104 0h2M880 469.5h2m102 0h2M880 470.5h2m85 0h2m15 0h2M967 471.5h2m6 0h2m10 0h2M975 472.5h2m10 0h2" stroke="#ff0000" stroke-width="1" fill="none" shape-rendering="crispEdges"/>
<path d="M685 707.5h2M685 708.5h2M409 759.5h2M409 760.5h2M672 762.5h2M672 763.5h2M465 767.5h2M465 768.5h2M481 770.5h2M481 771.5h2M404 774.5h2M404 775.5h2M444 779.5h2M385 780.5h2m57 0h2m28 0h2M385 781.5h2m87 0h2m24 0h2M486 782.5h2m12 0h2M477 783.5h2m7 0h2m20 0h2M424 784.5h2m51 0h2m4 0h2m23 0h2M403 785.5h3m18 0h2m49 0h2m6 0h2m1 0h2m8 0h4M386 786.5h2m15 0h3m59 0h2m8 0h2m3 0h2m4 0h2m8 0h4M386 787.5h2m77 0h2m3 0h2m8 0h2m5 0h2M470 788.5h2m15 0h2M461 789.5h2m25 0h2M371 790.5h2m26 0h2m9 0h2m49 0h2m3 0h2m20 0h2M368 791.5h2m1 0h2m7 0h4m2 0h2m6 0h4m1 0h2m9 0h2m54 0h2M368 792.5h2m10 0h4m2 0h2m6 0h4m21 0h2m23 0h2m37 0h2m8 0h3m4 0h2M332 793.5h2m56 0h2m1 0h2m2 0h3m10 0h2m7 0h2m23 0h2m29 0h2m6 0h2m8 0h3m4 0h2M332 794.5h2m56 0h2m1 0h2m2 0h3m8 0h4m63 0h2m2 0h2m2 0h4M379 795.5h4m7 0h5m13 0h2m69 0h8m1 0h2M363 796.5h2m5 0h2m5 0h6m7 0h6m53 0h2m30 0h2m5 0h2m14 0h2M351 797.5h2m10 0h2m1 0h2m1 0h3m5 0h2m1 0h2m2 0h2m4 0h2m2 0h2m53 0h2m18 0h2m33 0h2M348 798.5h2m1 0h2m12 0h3m1 0h2m9 0h2m2 0h2m4 0h2m75 0h6M348 799.5h2m1 0h2m2 0h2m8 0h2m3 0h2m7 0h4m1 0h3m2 0h2m18 0h2m38 0h2m13 0h2m1 0h7M351 800.5h2m2 0h2m6 0h2m5 0h2m7 0h4m2 0h2m2 0h2m12 0h2m4 0h2m5 0h2m5 0h2m3 0h2m19 0h2m13 0h2m3 0h2m1 0h2m25 0h2m25 0h2M363 801.5h2m15 0h2m14 0h2m3 0h4m8 0h2m1 0h2m5 0h2m3 0h3m43 0h2m7 0h2m1 0h2m11 0h2m5 0h2m18 0h2M336 802.5h2m10 0h2m8 0h2m1 0h2m3 0h3m27 0h3m2 0h2m10 0h4m1 0h2m9 0h2m32 0h2m7 0h4m7 0h2m1 0h2m18 0h2M336 803.5h2m2 0h2m6 0h2m8 0h2m1 0h3m2 0h3m22 0h2m4 0h2m6 0h2m8 0h2m1 0h2m5 0h2m36 0h2m7 0h2m11 0h2M336 804.5h2m2 0h2m20 0h2m16 0h2m9 0h2m9 0h2m1 0h2m8 0h3m7 0h2m58 0h2M336 805.5h2m20 0h2m2 0h2m7 0h2m7 0h2m7 0h2m4 0h2m3 0h4m11 0h3m20 0h2m47 0h2M341 806.5h2m3 0h2m10 0h2m11 0h2m3 0h4m9 0h2m4 0h2m3 0h3m9 0h2m24 0h2m8 0h2m37 0h2M341 807.5h2m3 0h2m28 0h4m3 0h2m16 0h2m6 0h2m1 0h2m1 0h2m19 0h4m8 0h2M332 808.5h2m24 0h2m14 0h6m1 0h4m6 0h2m4 0h2m10 0h2m4 0h2m19 0h4m21 0h2M332 809.5h2m18 0h2m1 0h2m1 0h2m8 0h2m2 0h8m1 0h2m8 0h8m14 0h2m46 0h2m44 0h2M349 810.5h2m1 0h2m1 0h2m11 0h2m2 0h2m5 0h2m3 0h2m5 0h10m10 0h4m15 0h2m75 0h2M348 811.5h3m13 0h2m2 0h2m7 0h5m2 0h2m3 0h2m6 0h4m10 0h2m2 0h2m13 0h2m1 0h2M348 812.5h2m14 0h2m5 0h2m1 0h2m1 0h5m4 0h2m1 0h2m7 0h2m11 0h6m13 0h2m1 0h2M346 813.5h2m18 0h2m3 0h2m1 0h4m1 0h2m5 0h5m5 0h3m11 0h2m1 0h6m60 0h2M346 814.5h2m18 0h2m8 0h2m5 0h2m2 0h2m6 0h4m7 0h2m2 0h2m4 0h5m24 0h2m32 0h2m8 0h2M383 815.5h2m3 0h2m5 0h2m9 0h2m7 0h3m1 0h2m2 0h2m1 0h2m9 0h2m6 0h2m42 0h2m32 0h2M361 816.5h2m14 0h2m9 0h2m10 0h2m13 0h2m2 0h2m2 0h2m1 0h2m9 0h2m84 0h2M341 817.5h2m17 0h3m10 0h2m2 0h2m20 0h3m4 0h2m11 0h2m77 0h2M341 818.5h2m17 0h2m11 0h2m1 0h3m20 0h2m5 0h2m62 0h2m7 0h2m17 0h2M368 819.5h2m2 0h2m2 0h3m2 0h2m1 0h2m6 0h2m55 0h2m11 0h2m6 0h2m7 0h2m29 0h2m5 0h2M360 820.5h4m4 0h2m2 0h2m7 0h2m1 0h2m6 0h2m24 0h4m27 0h2m11 0h2m46 0h2m5 0h2m20 0h2M340 821.5h2m18 0h4m10 0h2m12 0h2m5 0h2m17 0h2m2 0h7m92 0h2m20 0h2M340 822.5h2m14 0h2m10 0h2m4 0h2m12 0h2m5 0h2m1 0h2m14 0h2m5 0h4m37 0h2m16 0h2M356 823.5h2m10 0h2m28 0h2m62 0h2m16 0h2M381 824.5h2m24 0h2m53 0h2m64 0h2M356 825.5h2m23 0h2m5 0h2m17 0h3m59 0h2m24 0h2m31 0h2M356 826.5h2m30 0h2m16 0h4m21 0h2m27 0h2m1 0h3m3 0h2m23 0h3m4 0h2m29 0h2M330 827.5h2m41 0h2m16 0h2m1 0h2m3 0h2m5 0h2m23 0h2m27 0h2m1 0h3m28 0h2m5 0h2m29 0h2M330 828.5h2m10 0h2m22 0h2m5 0h2m16 0h2m1 0h2m3 0h2m151 0h2M342 829.5h2m1 0h2m14 0h2m3 0h2m16 0h2m148 0h2m16 0h2M345 830.5h2m14 0h2m21 0h2m35 0h2m25 0h2m32 0h2m42 0h2m6 0h2M399 831.5h2m20 0h2m15 0h2m8 0h2m32 0h2m7 0h2m33 0h2M369 832.5h2m23 0h2m3 0h2m28 0h2m7 0h2m51 0h2m22 0h2m14 0h3M366 833.5h2m1 0h2m3 0h2m18 0h3m32 0h2m39 0h2m43 0h2m14 0h3M341 834.5h2m23 0h2m6 0h2m10 0h2m7 0h2m73 0h2m5 0h2m34 0h2M341 835.5h2m43 0h2m15 0h2m72 0h2m19 0h2m13 0h2M403 836.5h2m23 0h2m68 0h2m18 0h2M384 837.5h2m15 0h2m25 0h2m88 0h2M384 838.5h2m15 0h2M400 839.5h2m16 0h2m17 0h2m37 0h2M327 840.5h2m71 0h4m14 0h2m17 0h2m37 0h2m12 0h2m84 0h2M327 841.5h2m13 0h2m58 0h2m20 0h2m8 0h2m4 0h2m48 0h2m84 0h2M342 842.5h2m57 0h2m21 0h2m8 0h2m3 0h3m56 0h2m1 0h2m4 0h2m7 0h2m19 0h2m62 0h2M349 843.5h2m50 0h2m36 0h2m21 0h3m33 0h2m1 0h2m4 0h3m6 0h2m6 0h2m11 0h2m62 0h2M349 844.5h2m77 0h2m21 0h2m9 0h3m42 0h3m14 0h2M428 845.5h2m21 0h2m48 0h2m1 0h2M353 846.5h2m13 0h2m79 0h2m48 0h4m1 0h3m1 0h2m8 0h2m27 0h2M353 847.5h2m13 0h2m70 0h2m7 0h2m44 0h2m2 0h2m4 0h2m1 0h2m8 0h2m27 0h4m1 0h2M440 848.5h2m43 0h4m6 0h2m52 0h2m1 0h2m2 0h2M469 849.5h2m14 0h4m22 0h2m12 0h2m24 0h2m3 0h2M421 850.5h2m46 0h2m20 0h2m18 0h2m12 0h2m24 0h2m9 0h2M421 851.5h2m67 0h3m19 0h2m48 0h2M490 852.5h2m20 0h2m29 0h2m24 0h2M488 853.5h4m51 0h2m24 0h2m44 0h2M339 854.5h2m20 0h2m29 0h2m94 0h2m39 0h2m84 0h2M339 855.5h2m20 0h2m29 0h2m35 0h2m21 0h2m32 0h2m7 0h2m6 0h2m24 0h2m29 0h2M429 856.5h2m17 0h2m2 0h2m32 0h2m7 0h4m2 0h4m55 0h2M411 857.5h2m35 0h2m2 0h2m11 0h2m30 0h2m2 0h2m22 0h4m21 0h3M411 858.5h2m39 0h2m11 0h2m35 0h2m21 0h4m21 0h3m1 0h2M365 859.5h2m135 0h2m18 0h2m5 0h2m23 0h2M365 860.5h2m63 0h2m38 0h2m50 0h2m5 0h2M429 861.5h3m38 0h2m50 0h2m28 0h2M411 862.5h2m16 0h2m58 0h2m1 0h2m19 0h2m37 0h2M404 863.5h2m3 0h4m12 0h2m62 0h2m1 0h2m19 0h2M404 864.5h2m3 0h2m2 0h2m10 0h2m104 0h2M399 865.5h2m12 0h2m13 0h2m93 0h2m6 0h2m14 0h2m24 0h2M399 866.5h2m27 0h2m58 0h2m12 0h2m16 0h2m1 0h2m22 0h2m24 0h2M444 867.5h2m42 0h2m4 0h2m3 0h2m1 0h2m15 0h3M376 868.5h2m66 0h2m38 0h2m6 0h4m3 0h2m18 0h2M376 869.5h2m98 0h2m6 0h2m6 0h4M476 870.5h2m3 0h2m11 0h2m20 0h2M427 871.5h2m52 0h2m33 0h2M427 872.5h2m28 0h2m48 0h2M437 873.5h2m18 0h2m48 0h2m1 0h2m10 0h2M437 874.5h2m26 0h2m43 0h2m10 0h2m1 0h2M430 875.5h2m19 0h2m12 0h2m46 0h2m10 0h2M430 876.5h2m19 0h2m1 0h2m37 0h2m11 0h2m5 0h2m29 0h2m5 0h2M375 877.5h2m50 0h2m25 0h2m37 0h2m11 0h2m19 0h2m5 0h2m8 0h2m5 0h2M375 878.5h2m50 0h2m57 0h2m39 0h2m5 0h2M448 879.5h2m36 0h2M448 880.5h2m104 0h2M442 881.5h2m89 0h2m19 0h2M442 882.5h2m89 0h2M443 883.5h2m26 0h2m53 0h2M443 884.5h2m26 0h2m45 0h2m6 0h2m7 0h2M405 885.5h2m69 0h2m21 0h2m15 0h4m15 0h2M405 886.5h4m51 0h2m14 0h2m10 0h2m9 0h2m15 0h2M407 887.5h2m5 0h3m43 0h2m26 0h2m44 0h2M414 888.5h3m20 0h2m95 0h2M437 889.5h2m99 0h2M506 890.5h2m30 0h2m12 0h2M422 891.5h2m11 0h2m5 0h2m4 0h2m32 0h2m21 0h4m43 0h2M422 892.5h2m11 0h2m5 0h2m4 0h2m32 0h2m21 0h4m5 0h2m31 0h2M295 893.5h2m217 0h2m5 0h2m24 0h2M295 894.5h2m217 0h2m5 0h2M406 895.5h2m22 0h2m82 0h2M406 896.5h2m22 0h2m7 0h2M387 897.5h2m50 0h2m65 0h2M317 898.5h2m61 0h2m5 0h2m38 0h2m77 0h2M317 899.5h2m61 0h2m45 0h2m71 0h2m35 0h2M422 900.5h2m3 0h2m33 0h2m36 0h2m27 0h2m6 0h2M417 901.5h2m1 0h4m3 0h2m33 0h2m25 0h2m38 0h2M417 902.5h2m1 0h2m5 0h3m59 0h2M428 903.5h2m74 0h2m4 0h2M504 904.5h2m4 0h2m14 0h2M373 905.5h2m151 0h2M373 906.5h2m41 0h2M360 907.5h2m54 0h2M360 908.5h2m49 0h2m20 0h2m18 0h2M411 909.5h2m12 0h2m6 0h2m18 0h2M410 910.5h2m13 0h2m85 0h2M389 911.5h2m19 0h2m8 0h2m3 0h2m25 0h2m58 0h2m10 0h2M389 912.5h2m23 0h2m4 0h2m3 0h2m25 0h2m26 0h2m30 0h2m10 0h2M359 913.5h2m53 0h2m21 0h2m41 0h2M354 914.5h2m3 0h2m38 0h2m21 0h2m13 0h2M354 915.5h2m13 0h2m17 0h2m9 0h2m21 0h2m16 0h2M352 916.5h2m15 0h2m17 0h2m35 0h2m13 0h2M336 917.5h2m14 0h2m16 0h2m37 0h2m13 0h3M336 918.5h2m32 0h2m12 0h2m23 0h2m10 0h2m1 0h2m9 0h2m15 0h2M358 919.5h2m20 0h3m1 0h2m35 0h2m12 0h2m15 0h2m10 0h2M353 920.5h2m3 0h2m20 0h3m81 0h2M353 921.5h4m4 0h2m5 0h2m14 0h2m1 0h2m2 0h2M337 922.5h2m15 0h3m4 0h3m4 0h2m5 0h2m7 0h2m1 0h2m2 0h2m43 0h2m84 0h2M337 923.5h2m15 0h2m6 0h2m11 0h2m25 0h2m6 0h2m7 0h2m15 0h3m7 0h2m50 0h2m12 0h2m8 0h2M402 924.5h2m6 0h2m7 0h2m11 0h2m3 0h2m7 0h2m50 0h2m12 0h2m28 0h2M274 925.5h2m26 0h2m57 0h2m29 0h4m2 0h2m17 0h2m13 0h2m1 0h2m32 0h2m71 0h2M274 926.5h2m26 0h2m49 0h2m6 0h2m7 0h2m4 0h2m14 0h4m2 0h2m2 0h2m3 0h2m3 0h3m2 0h2m2 0h2m12 0h2m32 0h2M331 927.5h2m3 0h2m2 0h2m11 0h2m2 0h2m11 0h2m4 0h2m1 0h2m19 0h4m3 0h2m3 0h5m4 0h2m14 0h2m2 0h2M331 928.5h2m1 0h4m2 0h2m13 0h4m11 0h2m5 0h5m4 0h2m12 0h2m10 0h2m1 0h2m20 0h2m2 0h2M329 929.5h4m1 0h2m17 0h6m18 0h6m3 0h2m8 0h2m3 0h2m7 0h2m5 0h2m7 0h2m63 0h2m44 0h2M329 930.5h2m2 0h2m18 0h2m2 0h2m8 0h4m5 0h4m1 0h2m2 0h2m6 0h2m1 0h2m3 0h2m7 0h2m2 0h2m1 0h2m7 0h2m4 0h2m2 0h2m6 0h2m24 0h2m1 0h2m13 0h2m1 0h2m44 0h2M333 931.5h2m7 0h2m4 0h2m2 0h2m11 0h6m3 0h4m2 0h3m2 0h6m1 0h3m3 0h2m8 0h2m4 0h4m2 0h2m10 0h2m2 0h2m6 0h2m8 0h2m14 0h2m1 0h2m13 0h2M337 932.5h2m2 0h3m4 0h2m2 0h2m10 0h3m7 0h3m3 0h4m1 0h6m1 0h2m3 0h3m1 0h3m4 0h2m6 0h2m2 0h2m32 0h2M337 933.5h2m2 0h2m21 0h2m3 0h2m3 0h5m3 0h9m1 0h2m3 0h2m2 0h4m9 0h2m9 0h2m82 0h2M362 934.5h4m3 0h2m3 0h9m1 0h6m2 0h5m4 0h4m1 0h4m4 0h2m9 0h2m46 0h2m34 0h2m15 0h2M341 935.5h4m6 0h3m8 0h3m1 0h4m5 0h9m1 0h12m1 0h2m1 0h3m1 0h5m5 0h2m56 0h2m5 0h2m16 0h2m26 0h2M341 936.5h4m6 0h3m8 0h2m1 0h5m4 0h2m1 0h3m1 0h6m2 0h5m2 0h12m4 0h2m1 0h3m2 0h2m7 0h2m49 0h2m16 0h2M327 937.5h2m4 0h2m6 0h4m3 0h2m1 0h4m4 0h5m1 0h5m4 0h3m1 0h2m1 0h6m2 0h4m1 0h4m2 0h6m4 0h8m2 0h2m4 0h2m1 0h4m10 0h2M327 938.5h2m4 0h2m4 0h6m3 0h2m1 0h4m4 0h5m2 0h2m2 0h3m1 0h6m1 0h7m1 0h2m2 0h4m1 0h2m1 0h6m1 0h4m1 0h2m11 0h2m3 0h2m10 0h3m6 0h2M329 939.5h2m8 0h2m3 0h2m1 0h2m1 0h5m1 0h2m3 0h27m1 0h2m1 0h18m4 0h2m1 0h2m16 0h2m3 0h2m2 0h2m6 0h2m73 0h2M320 940.5h2m4 0h2m1 0h2m6 0h2m1 0h18m1 0h28m1 0h14m4 0h4m2 0h4m1 0h3m3 0h3m6 0h2m1 0h2m3 0h2m85 0h2M301 941.5h2m17 0h2m4 0h2m1 0h2m3 0h67m1 0h8m1 0h4m3 0h4m1 0h5m4 0h2m32 0h2M301 942.5h2m26 0h2m3 0h12m1 0h36m1 0h7m1 0h8m1 0h7m3 0h11m4 0h2m13 0h2m23 0h2M334 943.5h12m1 0h66m2 0h5m6 0h2m1 0h4m8 0h2m24 0h2m37 0h2M334 944.5h77m3 0h2m1 0h2m3 0h2m1 0h3m1 0h4m34 0h2m37 0h2M285 945.5h2m29 0h2m7 0h2m5 0h4m1 0h45m1 0h28m1 0h4m1 0h2m2 0h3m1 0h2m9 0h2M285 946.5h2m29 0h2m5 0h6m3 0h4m1 0h4m1 0h69m1 0h4m1 0h2m2 0h2m6 0h2m1 0h2m2 0h2m1 0h2m20 0h2m5 0h2M299 947.5h2m21 0h7m3 0h4m4 0h74m2 0h5m3 0h3m2 0h2m1 0h2m5 0h2m12 0h2m6 0h2m5 0h2M299 948.5h2m16 0h2m2 0h6m1 0h8m1 0h2m1 0h5m1 0h52m1 0h28m3 0h2m4 0h2m15 0h2M317 949.5h2m1 0h3m1 0h3m1 0h7m2 0h2m1 0h89m1 0h2m4 0h2m3 0h2m4 0h2m4 0h2m31 0h2m6 0h2M271 950.5h2m47 0h2m9 0h4m1 0h2m2 0h77m2 0h2m1 0h10m9 0h2m4 0h2m37 0h2m6 0h2M271 951.5h2m45 0h2m7 0h11m1 0h2m3 0h81m3 0h2m16 0h2M298 952.5h2m18 0h2m1 0h2m4 0h84m1 0h10m1 0h2m2 0h2m17 0h3m17 0h2M294 953.5h2m2 0h2m18 0h2m1 0h2m4 0h9m1 0h80m1 0h2m7 0h4m6 0h2m8 0h2m17 0h4M294 954.5h2m20 0h4m9 0h91m9 0h2m6 0h2m3 0h2m5 0h2m8 0h2m7 0h2M313 955.5h2m1 0h4m7 0h92m1 0h3m11 0h2m6 0h2m5 0h2m5 0h2m1 0h2M313 956.5h2m3 0h6m3 0h3m1 0h82m1 0h14m1 0h7m20 0h2m13 0h2M299 957.5h2m4 0h2m13 0h10m1 0h82m1 0h6m1 0h7m1 0h6m2 0h2m5 0h3m21 0h2m1 0h2m18 0h2M299 958.5h2m4 0h2m11 0h2m2 0h106m3 0h4m1 0h3m5 0h3m21 0h2m21 0h2M300 959.5h2m9 0h2m3 0h9m2 0h90m1 0h10m3 0h7m18 0h2m2 0h2M289 960.5h2m9 0h2m9 0h2m3 0h10m1 0h2m3 0h92m10 0h2m1 0h2m17 0h2m2 0h2M289 961.5h2m5 0h2m14 0h2m2 0h15m1 0h83m1 0h9m4 0h2m6 0h2M296 962.5h2m8 0h2m4 0h2m2 0h2m1 0h3m3 0h6m1 0h2m1 0h75m1 0h2m3 0h3m3 0h3m1 0h2m1 0h2m2 0h2m33 0h2M294 963.5h2m10 0h2m7 0h3m2 0h4m1 0h4m3 0h8m1 0h70m3 0h7m1 0h3m1 0h2m1 0h2m2 0h5m30 0h2M294 964.5h2m6 0h2m11 0h3m3 0h8m1 0h81m3 0h3m2 0h6m4 0h2m2 0h5m99 0h2M302 965.5h2m1 0h2m3 0h2m6 0h2m3 0h89m1 0h10m1 0h2m1 0h5m1 0h3m101 0h2m11 0h2M302 966.5h2m1 0h2m3 0h2m6 0h2m3 0h10m1 0h8m1 0h80m1 0h5m1 0h2m1 0h3m9 0h2m21 0h2m80 0h2M304 967.5h3m10 0h3m1 0h2m2 0h3m1 0h4m1 0h85m1 0h4m2 0h3m4 0h3m9 0h2m16 0h2m3 0h2M304 968.5h2m11 0h3m1 0h3m1 0h3m1 0h88m3 0h4m3 0h2m4 0h2m24 0h3m1 0h2M312 969.5h2m8 0h13m1 0h69m4 0h5m6 0h2m5 0h2m30 0h3m11 0h2m25 0h2M306 970.5h2m2 0h4m3 0h4m3 0h6m1 0h74m4 0h5m1 0h2m3 0h2m3 0h2m6 0h2m4 0h2m32 0h3m24 0h2m2 0h2M306 971.5h2m2 0h2m5 0h5m1 0h7m1 0h61m2 0h16m1 0h3m1 0h2m7 0h3m2 0h2m2 0h2m4 0h2m33 0h2m28 0h2M319 972.5h11m1 0h62m2 0h21m8 0h2m3 0h2m7 0h4m10 0h2m6 0h2M309 973.5h2m4 0h2m1 0h5m2 0h13m1 0h55m1 0h12m1 0h9m8 0h6m7 0h4m10 0h2m5 0h3m37 0h2M287 974.5h2m20 0h2m4 0h2m1 0h3m4 0h76m1 0h9m1 0h2m1 0h2m1 0h4m2 0h7m28 0h2m38 0h2M272 975.5h2m12 0h3m30 0h3m2 0h84m1 0h2m7 0h4m2 0h4m53 0h2M272 976.5h2m12 0h2m11 0h2m4 0h2m3 0h2m5 0h2m1 0h3m1 0h2m1 0h9m1 0h67m2 0h3m16 0h5m50 0h3M280 977.5h2m17 0h2m4 0h2m3 0h2m1 0h2m2 0h2m2 0h78m3 0h2m3 0h2m16 0h5m50 0h2M275 978.5h2m3 0h2m11 0h2m8 0h2m8 0h2m5 0h8m2 0h2m2 0h69m1 0h2m5 0h2m2 0h2m2 0h4m4 0h2m128 0h2M275 979.5h2m16 0h2m8 0h2m15 0h2m1 0h3m1 0h3m3 0h2m2 0h66m1 0h3m4 0h2m2 0h2m2 0h5m133 0h2M301 980.5h2m18 0h4m2 0h3m1 0h4m2 0h2m1 0h52m1 0h8m2 0h6m6 0h4m1 0h4M301 981.5h2m5 0h3m10 0h2m5 0h7m2 0h5m2 0h5m1 0h41m3 0h7m2 0h2m2 0h2m8 0h2m2 0h2m32 0h2m79 0h2M307 982.5h4m5 0h2m6 0h2m3 0h13m4 0h2m1 0h6m1 0h40m5 0h2m5 0h4m9 0h2m32 0h2m79 0h2M307 983.5h3m5 0h3m6 0h4m1 0h16m1 0h27m2 0h20m1 0h2m3 0h2m5 0h4m14 0h2M315 984.5h3m7 0h3m1 0h2m3 0h16m1 0h14m1 0h16m3 0h5m2 0h6m3 0h2m7 0h2m4 0h2m8 0h2M278 985.5h2m13 0h2m40 0h15m2 0h3m2 0h11m1 0h13m2 0h2m1 0h3m3 0h4m8 0h2m3 0h3m3 0h2m4 0h2M278 986.5h2m1 0h2m10 0h2m28 0h2m6 0h2m6 0h18m1 0h9m2 0h10m1 0h2m2 0h2m7 0h4m1 0h2m5 0h2m4 0h4m6 0h3m19 0h2m78 0h2M281 987.5h2m16 0h2m14 0h4m3 0h3m6 0h4m4 0h3m2 0h10m1 0h10m2 0h3m3 0h9m10 0h5m1 0h2m8 0h2m1 0h4m6 0h2m1 0h2m17 0h2m78 0h2M299 988.5h2m14 0h4m3 0h2m1 0h2m2 0h3m1 0h2m2 0h5m2 0h4m1 0h6m2 0h2m2 0h9m3 0h7m1 0h2m9 0h7m9 0h2m1 0h3m10 0h2m7 0h2m30 0h2M286 989.5h2m34 0h2m1 0h2m2 0h3m3 0h4m1 0h3m2 0h3m3 0h4m8 0h12m5 0h3m1 0h2m3 0h3m3 0h4m2 0h2m4 0h2m2 0h3m13 0h2m2 0h4m30 0h2M286 990.5h2m40 0h2m1 0h2m2 0h2m3 0h3m2 0h2m4 0h2m1 0h6m2 0h11m7 0h3m1 0h2m2 0h4m8 0h3m4 0h5m15 0h2m2 0h2m89 0h2M283 991.5h2m30 0h2m2 0h2m7 0h2m1 0h2m6 0h2m11 0h8m2 0h5m2 0h4m15 0h5m7 0h2m6 0h4m110 0h2M283 992.5h2m30 0h2m2 0h2m14 0h2m2 0h2m3 0h2m6 0h2m2 0h2m4 0h4m2 0h3m13 0h4m3 0h3m5 0h2m2 0h2m25 0h2m3 0h2M307 993.5h2m5 0h2m10 0h2m7 0h2m4 0h2m1 0h4m8 0h2m3 0h2m5 0h4m2 0h2m8 0h4m4 0h2m5 0h2m2 0h4m8 0h2m9 0h2m2 0h2m3 0h2M307 994.5h2m5 0h2m10 0h6m9 0h3m2 0h2m13 0h2m7 0h2m2 0h2m16 0h2m5 0h2m1 0h2m1 0h2m5 0h2m1 0h2m6 0h2m1 0h2m5 0h2M328 995.5h4m10 0h2m12 0h2m3 0h3m38 0h4m6 0h2m9 0h2m3 0h2m3 0h2M325 996.5h2m18 0h2m1 0h2m6 0h2m4 0h2m26 0h2m12 0h2m22 0h2m15 0h2M325 997.5h2m6 0h2m8 0h4m1 0h2m2 0h2m34 0h4m9 0h2m6 0h2m7 0h2m25 0h2m10 0h2m19 0h2M333 998.5h2m8 0h3m6 0h3m33 0h2m1 0h2m8 0h4m4 0h3m6 0h4m2 0h2m11 0h2m18 0h2m19 0h2M333 999.5h2m9 0h2m7 0h3m1 0h2m29 0h2m1 0h2m10 0h4m3 0h2m8 0h2m2 0h2m11 0h2M330 1000.5h2m3 0h2m15 0h4m1 0h2m36 0h2m8 0h2m3 0h4m1 0h2m3 0h2m16 0h2M330 1001.5h2m3 0h2m15 0h2m41 0h2m6 0h4m4 0h3m1 0h2m13 0h2m6 0h2M322 1002.5h2m27 0h2m22 0h2m11 0h2m8 0h2m3 0h4m17 0h2m4 0h2m2 0h2M322 1003.5h2m4 0h4m2 0h3m14 0h2m22 0h2m3 0h2m6 0h2m8 0h2m2 0h2m1 0h2m6 0h2m9 0h2m8 0h2M328 1004.5h4m2 0h4m42 0h2m19 0h3m1 0h2m6 0h2M336 1005.5h2m17 0h2m31 0h2m11 0h2m22 0h2m1 0h2M311 1006.5h2m42 0h2m31 0h2m11 0h2m4 0h2m5 0h4m7 0h2m1 0h2M311 1007.5h3m1 0h2m28 0h4m2 0h2m25 0h2m8 0h2m17 0h2m5 0h4m5 0h2M312 1008.5h2m1 0h2m17 0h2m9 0h4m2 0h2m25 0h2m8 0h2m6 0h2m4 0h2m9 0h2m1 0h2m5 0h2M334 1009.5h2m60 0h2m4 0h4m7 0h2m1 0h2m11 0h2M273 1010.5h2m63 0h2m64 0h2m7 0h2m1 0h2m11 0h2M273 1011.5h2m63 0h2m54 0h2m15 0h4m1 0h2M382 1012.5h2m10 0h2m2 0h2m5 0h2m4 0h4m3 0h2m12 0h2M320 1013.5h2m24 0h2m24 0h2m8 0h2m14 0h2m5 0h2m4 0h2m5 0h2m6 0h2m4 0h2M320 1014.5h2m15 0h2m7 0h2m24 0h2m18 0h2m10 0h2m20 0h2M273 1015.5h2m62 0h2m53 0h2m10 0h2m11 0h2M273 1016.5h2m138 0h2m2 0h2m5 0h2m7 0h2M375 1017.5h2m36 0h2m2 0h2m3 0h4m7 0h2M375 1018.5h2m22 0h2m16 0h2m3 0h2m2 0h4M399 1019.5h2m12 0h6m7 0h4M411 1020.5h8M320 1021.5h2m40 0h2m14 0h2m27 0h2m2 0h2m4 0h4M320 1022.5h2m34 0h2m4 0h2m14 0h2m21 0h2m2 0h5m7 0h4m64 0h2M312 1023.5h2m42 0h2m43 0h2m2 0h2m1 0h2m75 0h2M312 1024.5h2m58 0h2m20 0h2m8 0h2m7 0h2M372 1025.5h2m20 0h2m8 0h2m1 0h2m4 0h2m11 0h2M403 1026.5h2m2 0h2m4 0h2m11 0h2M401 1027.5h4m8 0h2m11 0h2M390 1028.5h4m7 0h2M390 1029.5h4m15 0h2M404 1030.5h2m3 0h2m14 0h2m2 0h2M404 1031.5h2m4 0h2m13 0h6M328 1032.5h2m49 0h2m26 0h2m1 0h2m15 0h2M328 1033.5h2m49 0h2m26 0h2M391 1034.5h2m9 0h2m24 0h2M391 1035.5h2m9 0h2m24 0h2M390 1036.5h2m45 0h2M390 1037.5h2m12 0h2m31 0h2M402 1038.5h4M402 1039.5h2M403 1040.5h2M403 1041.5h2M357 1043.5h2m69 0h2M357 1044.5h2m69 0h2" stroke="#ff0000" stroke-width="1" fill="none" shape-rendering="crispEdges"/>
<path d="M973 627.5h2M973 628.5h2M946 633.5h2M946 634.5h2M959 641.5h2M959 642.5h2M878 662.5h2m42 0h2M878 663.5h2m42 0h2M866 667.5h2M866 668.5h2M876 682.5h2M876 683.5h2M861 684.5h2M861 685.5h2m18 0h2m97 0h2M881 686.5h2m97 0h2M1107 688.5h2M1107 689.5h2M942 690.5h2M942 691.5h2M928 692.5h2M859 693.5h2m67 0h2M859 694.5h2M844 695.5h2m102 0h2M844 696.5h2m102 0h2m43 0h2M993 697.5h2M854 698.5h2M854 699.5h2m60 0h2M916 700.5h2m175 0h2M1093 701.5h2M967 702.5h2M950 703.5h2m15 0h2M887 704.5h4m59 0h2M887 705.5h4M872 707.5h2M872 708.5h2m35 0h2M909 709.5h2M981 710.5h2M981 711.5h2M918 712.5h2m81 0h2M918 713.5h2m81 0h2M986 715.5h2M986 716.5h2M900 717.5h2m96 0h2m40 0h2M900 718.5h2m55 0h2m11 0h2m26 0h2m40 0h2M957 719.5h2m11 0h2m74 0h2M882 720.5h2m162 0h2M882 721.5h2m29 0h2M913 722.5h2m32 0h2m171 0h2M846 723.5h2m77 0h2m20 0h2m3 0h2m166 0h2M846 724.5h2m2 0h2m73 0h2m25 0h2M850 725.5h2m7 0h2M859 726.5h2m206 0h2m21 0h2M855 727.5h2m87 0h2m121 0h2m21 0h2M855 728.5h2m87 0h2m38 0h2M984 729.5h2m102 0h2M1088 730.5h2M848 731.5h2m124 0h2M848 732.5h2m10 0h2m75 0h2m29 0h2m4 0h2m16 0h2M860 733.5h2m25 0h2m48 0h2m29 0h2m22 0h2M859 734.5h2m26 0h2M859 735.5h2m90 0h2M882 736.5h2m67 0h2m30 0h2M882 737.5h2m99 0h2M901 739.5h2m21 0h2m106 0h2M855 740.5h2m9 0h2m33 0h2m21 0h2m106 0h2M855 741.5h2m9 0h2m11 0h2m7 0h2M853 742.5h2m24 0h2m6 0h3M853 743.5h2m32 0h2m80 0h2M894 744.5h2m73 0h2M894 745.5h2m104 0h2M1000 746.5h2M940 747.5h2M940 748.5h2M859 749.5h2m13 0h2m45 0h2m66 0h2M859 750.5h2m13 0h2m45 0h2m59 0h2m5 0h2M939 751.5h2m41 0h2m70 0h2M926 752.5h2m11 0h2m113 0h2M877 753.5h2m47 0h2m3 0h2m18 0h2M877 754.5h2m52 0h2m18 0h2M965 755.5h2m76 0h2M965 756.5h2m21 0h2m53 0h2M873 757.5h2m71 0h2m8 0h2m30 0h2M873 758.5h2m2 0h2m57 0h2m8 0h2m8 0h2m72 0h2M877 759.5h2m57 0h2m39 0h2m51 0h2M862 760.5h2m113 0h2m18 0h2M862 761.5h2m100 0h2m31 0h2M855 762.5h2m63 0h2m9 0h2m1 0h2m28 0h2m40 0h2M855 763.5h2m63 0h2m9 0h2m1 0h2m70 0h2m60 0h2M847 764.5h2m135 0h2m82 0h2M847 765.5h2m7 0h2m95 0h2m29 0h2M856 766.5h2m22 0h2m71 0h3m18 0h2M880 767.5h2m50 0h2m20 0h2m18 0h2M932 768.5h2m9 0h2M852 769.5h2m89 0h2m12 0h2m10 0h2M852 770.5h2m103 0h2m10 0h2M970 771.5h2M885 772.5h4m52 0h2m6 0h2m19 0h2m14 0h2M885 773.5h4m13 0h2m37 0h2m6 0h2m7 0h2m24 0h4M902 774.5h2m54 0h2m23 0h3M983 775.5h2M859 776.5h2m22 0h4m57 0h2m3 0h2M859 777.5h2m4 0h2m16 0h4m18 0h2m19 0h2m16 0h2m3 0h2m7 0h2m172 0h2M865 778.5h2m38 0h2m3 0h2m14 0h2m29 0h3m41 0h2m129 0h2M853 779.5h2m55 0h2m45 0h2m14 0h2m26 0h2M853 780.5h2m64 0h2m31 0h2m19 0h2m15 0h2m50 0h2M919 781.5h2m31 0h2m19 0h2m10 0h2m3 0h2m41 0h2m7 0h2m93 0h2M847 782.5h2m8 0h2m3 0h2m14 0h2m105 0h2m46 0h2m102 0h2M847 783.5h2m8 0h2m3 0h3m13 0h2m205 0h2M863 784.5h2m122 0h3m95 0h2m1 0h2M869 785.5h2m7 0h4m44 0h2m36 0h2m21 0h3m98 0h2M869 786.5h2m7 0h4m32 0h3m9 0h2m36 0h2M890 787.5h2m22 0h3m27 0h2m37 0h2M889 788.5h3m52 0h2m37 0h2M887 789.5h4m96 0h2m6 0h2M871 790.5h2m4 0h2m8 0h2m71 0h2m25 0h2m6 0h2M858 791.5h2m11 0h2m4 0h2m66 0h2m13 0h2m10 0h2M858 792.5h3m79 0h2m3 0h2m4 0h2m19 0h2m4 0h2M859 793.5h2m38 0h2m39 0h2m3 0h2m4 0h2m25 0h2M899 794.5h2M843 795.5h2m150 0h2M843 796.5h2m60 0h2m52 0h2m12 0h2m20 0h2m72 0h2M876 797.5h2m18 0h2m7 0h2m30 0h2m20 0h2m12 0h2m21 0h2m44 0h2m25 0h2M876 798.5h2m10 0h2m6 0h2m24 0h2m13 0h2m31 0h2m24 0h2m44 0h2m46 0h2M865 799.5h2m15 0h2m4 0h2m32 0h3m18 0h2m25 0h2m102 0h2m14 0h2m3 0h2M865 800.5h2m15 0h2m25 0h2m12 0h2m18 0h2m17 0h2m110 0h2m11 0h2m6 0h2M909 801.5h2m51 0h2m36 0h2m85 0h2M853 802.5h2m6 0h2m11 0h2m83 0h2m13 0h2m6 0h2m16 0h2M852 803.5h3m6 0h2m10 0h3m83 0h2m13 0h2m4 0h4m9 0h2M852 804.5h2m19 0h2m45 0h2m58 0h2m11 0h2m65 0h2m35 0h2m24 0h2M889 805.5h2m29 0h2m10 0h2m25 0h2m27 0h3m69 0h2m35 0h2m24 0h2M846 806.5h2m36 0h2m3 0h2m38 0h2m1 0h2m7 0h2m16 0h2m27 0h3m77 0h2M846 807.5h2m19 0h2m15 0h2m14 0h2m27 0h2m10 0h2m26 0h2m17 0h2m11 0h2m58 0h2m5 0h2M867 808.5h2m31 0h2m67 0h2m18 0h2m10 0h2m58 0h2M857 809.5h2m41 0h2m15 0h2m28 0h2m40 0h4M857 810.5h2m58 0h2m1 0h2m25 0h2m42 0h2M879 811.5h2m5 0h2m32 0h2m7 0h2m35 0h2m5 0h2M879 812.5h2m5 0h2m41 0h2m35 0h2m5 0h2m7 0h2m1 0h2m25 0h2M847 813.5h2m11 0h2m22 0h2m96 0h2m1 0h2m25 0h2M846 814.5h3m11 0h2m22 0h2m5 0h2m27 0h2m29 0h2M846 815.5h2m43 0h2m27 0h2m25 0h2m2 0h2m40 0h2M852 816.5h2m46 0h2m10 0h2m26 0h2m5 0h2m3 0h2m39 0h2M852 817.5h2m2 0h2m42 0h2m10 0h2m25 0h3m10 0h2M856 818.5h4m11 0h2m6 0h2m33 0h3m22 0h2m30 0h2M858 819.5h2m11 0h2m6 0h2m12 0h2m7 0h2m10 0h3m54 0h2m18 0h2M864 820.5h2m27 0h2m7 0h2m14 0h2m20 0h2m49 0h2M864 821.5h2m11 0h2m39 0h2m20 0h2m51 0h2M877 822.5h2m73 0h3m5 0h2m31 0h2m112 0h2M847 823.5h2m41 0h2m19 0h2m39 0h3m5 0h2m18 0h2m125 0h2M847 824.5h2m24 0h2m7 0h2m6 0h2m6 0h2m11 0h2m44 0h2m21 0h2M855 825.5h2m16 0h2m7 0h2m14 0h2m18 0h2m37 0h2m34 0h2m63 0h2M855 826.5h2m47 0h2m12 0h2m6 0h2m39 0h2m24 0h2m63 0h2M870 827.5h2m15 0h3m14 0h2m20 0h2m39 0h2m95 0h2M870 828.5h2m15 0h3m7 0h2m6 0h4m79 0h2m74 0h2M852 829.5h2m43 0h2m6 0h4m24 0h2m26 0h2m25 0h2m7 0h2M852 830.5h2m4 0h2m7 0h2m62 0h4m26 0h2m2 0h2m21 0h2m7 0h2M845 831.5h2m4 0h2m5 0h2m1 0h2m4 0h2m29 0h2m12 0h2m17 0h2m8 0h2m22 0h2M845 832.5h2m4 0h2m5 0h2m1 0h2m35 0h2m2 0h2m8 0h2m2 0h2m23 0h2m37 0h2m7 0h2m60 0h2M858 833.5h2m25 0h2m3 0h2m10 0h2m12 0h2m20 0h2m40 0h2m7 0h2m9 0h2m49 0h2m2 0h2M885 834.5h2m3 0h2m1 0h2m16 0h2m25 0h2m7 0h2m20 0h2m16 0h2m11 0h2m53 0h2M893 835.5h2m16 0h2m34 0h2m20 0h2m16 0h2M895 836.5h2m4 0h2m31 0h2m3 0h2m59 0h4M882 837.5h2m11 0h2m4 0h2m31 0h2m3 0h2m9 0h2m16 0h2m30 0h4M882 838.5h2m5 0h2m26 0h2m31 0h2m3 0h2m11 0h2m25 0h2M863 839.5h2m24 0h2m26 0h4m34 0h2m11 0h2m25 0h2m15 0h2M846 840.5h2m9 0h2m4 0h2m2 0h2m20 0h2m28 0h2m11 0h2m20 0h2m1 0h2m33 0h2m18 0h2m28 0h2m17 0h2M846 841.5h2m3 0h2m4 0h2m8 0h2m20 0h2m15 0h2m24 0h2m20 0h2m1 0h2m5 0h2m26 0h2m48 0h2m17 0h2m15 0h2M851 842.5h2m37 0h2m13 0h3m56 0h2m8 0h2m2 0h2m3 0h2m51 0h2m40 0h2M874 843.5h2m14 0h2m2 0h2m9 0h2m34 0h2m31 0h2m2 0h2m3 0h2m15 0h2m9 0h2m23 0h2m106 0h2M851 844.5h2m3 0h2m16 0h2m18 0h2m21 0h2m22 0h2m31 0h2m24 0h2m9 0h2m43 0h2m8 0h2m76 0h2M851 845.5h2m3 0h2m28 0h2m27 0h4m4 0h2m49 0h2m42 0h2m36 0h6m4 0h2M866 846.5h2m18 0h2m17 0h2m8 0h2m5 0h3m13 0h2m16 0h2m60 0h2m37 0h5M847 847.5h2m17 0h2m37 0h4m13 0h2m2 0h2m1 0h2m7 0h2m9 0h2m5 0h2m39 0h2m69 0h4M847 848.5h2m33 0h2m22 0h3m17 0h2m1 0h2m12 0h2m4 0h2m16 0h2m21 0h2m5 0h2m52 0h2m12 0h2m1 0h4M857 849.5h2m23 0h2m22 0h2m5 0h2m8 0h2m18 0h2m22 0h2m19 0h5m58 0h2m12 0h2M855 850.5h4m24 0h2m15 0h2m11 0h2m6 0h4m10 0h2m30 0h2m7 0h2m10 0h5m20 0h2m49 0h4M850 851.5h2m3 0h2m26 0h2m15 0h2m6 0h2m11 0h2m11 0h3m3 0h2m6 0h2m17 0h2m5 0h4m12 0h2m21 0h2m49 0h4M846 852.5h2m2 0h2m27 0h2m1 0h2m5 0h2m15 0h5m22 0h9m6 0h2m12 0h2m2 0h2m6 0h2m15 0h2m51 0h2m2 0h2m14 0h3M846 853.5h2m4 0h2m15 0h2m8 0h2m1 0h2m5 0h2m9 0h2m4 0h2m1 0h5m19 0h2m1 0h4m22 0h2m2 0h2m7 0h2m14 0h2m51 0h2m2 0h2m9 0h3m3 0h2m80 0h2m8 0h2M852 854.5h2m15 0h3m6 0h2m20 0h2m8 0h4m7 0h2m21 0h2m8 0h2m19 0h2m54 0h2m21 0h2m3 0h3m85 0h2m8 0h2M851 855.5h2m17 0h2m6 0h2m22 0h2m17 0h2m18 0h2m1 0h2m8 0h2m25 0h2m16 0h2m30 0h2m21 0h4m1 0h2m1 0h2m1 0h2m5 0h2M851 856.5h2m8 0h2m9 0h4m2 0h2m22 0h4m25 0h2m8 0h4m13 0h2m21 0h2m6 0h2m8 0h4m53 0h3m3 0h2m1 0h3m4 0h2M854 857.5h2m5 0h2m9 0h4m2 0h2m8 0h2m14 0h2m11 0h2m12 0h2m10 0h2m13 0h2m7 0h3m5 0h2m12 0h2m10 0h2m39 0h2m13 0h3m6 0h3M854 858.5h2m2 0h2m18 0h2m8 0h2m12 0h2m13 0h2m7 0h2m4 0h2m12 0h2m1 0h2m16 0h3m5 0h2m7 0h2m55 0h3m1 0h2m11 0h2m6 0h5m2 0h2m1 0h2m18 0h2M856 859.5h4m42 0h2m20 0h4m4 0h2m12 0h5m32 0h3m55 0h2m2 0h2m9 0h2m3 0h10m1 0h3m1 0h2m18 0h2M856 860.5h2m44 0h2m7 0h3m10 0h2m5 0h4m13 0h2m13 0h2m3 0h2m10 0h2m1 0h2m8 0h2m57 0h6m1 0h12m1 0h2M901 861.5h3m7 0h3m11 0h2m2 0h6m28 0h2m3 0h2m10 0h2m6 0h2m3 0h2m57 0h4m3 0h3m2 0h7m1 0h2M862 862.5h2m2 0h2m29 0h6m9 0h2m11 0h2m2 0h2m6 0h2m6 0h2m33 0h2m5 0h3m3 0h2m69 0h2m5 0h4m3 0h2m1 0h2m52 0h2M847 863.5h2m13 0h2m2 0h2m12 0h2m15 0h4m27 0h3m2 0h2m2 0h2m2 0h2m2 0h2m40 0h2m4 0h2m38 0h2m23 0h2m1 0h5m4 0h5m3 0h2m1 0h2m52 0h2M847 864.5h2m4 0h2m6 0h3m4 0h2m10 0h3m10 0h2m3 0h2m2 0h2m6 0h2m16 0h3m2 0h2m6 0h2m2 0h2m4 0h2m34 0h2m4 0h2m31 0h2m5 0h2m16 0h2m5 0h2m1 0h5m1 0h5m8 0h2m30 0h2M853 865.5h2m6 0h2m5 0h2m11 0h2m10 0h2m3 0h2m2 0h2m6 0h2m8 0h2m4 0h5m12 0h2m6 0h2m2 0h2m30 0h2m2 0h4m31 0h2m19 0h2m2 0h2m5 0h2m2 0h2m3 0h6m2 0h2m3 0h2m2 0h2m26 0h2M920 866.5h2m4 0h3m14 0h2m2 0h2m6 0h2m4 0h2m1 0h4m12 0h2m9 0h2m35 0h2m17 0h4m7 0h2m2 0h2m6 0h7m7 0h2m6 0h2M855 867.5h2m34 0h2m47 0h2m5 0h2m6 0h2m4 0h2m1 0h4m12 0h3m4 0h2m1 0h2m36 0h2m19 0h4m6 0h3m4 0h2m5 0h4m15 0h2m16 0h2M855 868.5h2m8 0h2m5 0h2m16 0h3m44 0h2m1 0h2m13 0h2m12 0h2m4 0h2m2 0h4m4 0h2m1 0h4m57 0h2m3 0h2m1 0h3m4 0h2m3 0h2m2 0h2m12 0h2m19 0h2M853 869.5h4m8 0h3m4 0h2m16 0h4m27 0h2m14 0h2m30 0h2m2 0h4m2 0h3m10 0h2m42 0h2m1 0h2m15 0h2m8 0h2m3 0h4m14 0h2M845 870.5h2m6 0h6m7 0h2m14 0h2m8 0h3m26 0h2m22 0h2m26 0h2m4 0h2m7 0h4m24 0h2m6 0h2m10 0h5m15 0h3m13 0h4M845 871.5h2m6 0h2m2 0h2m11 0h4m8 0h2m9 0h2m10 0h2m6 0h2m18 0h2m1 0h2m7 0h2m9 0h2m13 0h2m11 0h3m1 0h4m24 0h2m6 0h2m12 0h2m9 0h2m3 0h5m6 0h3m2 0h10m26 0h2M853 872.5h2m8 0h2m5 0h4m1 0h2m28 0h2m6 0h2m2 0h2m14 0h2m1 0h2m2 0h2m14 0h2m12 0h3m7 0h2m2 0h3m12 0h2m40 0h4m4 0h2m2 0h7m1 0h2m2 0h7m2 0h6m26 0h2M863 873.5h2m10 0h2m40 0h2m11 0h2m8 0h2m2 0h2m6 0h2m16 0h2m8 0h2m3 0h2m12 0h2m40 0h4m3 0h2m3 0h7m1 0h5m2 0h3m2 0h2m1 0h2M860 874.5h2m9 0h2m7 0h2m14 0h4m16 0h2m12 0h2m12 0h2m6 0h2m16 0h2m6 0h4m3 0h2m5 0h2m54 0h2m3 0h5m5 0h3m7 0h2m1 0h2M860 875.5h2m9 0h2m7 0h3m13 0h4m8 0h2m6 0h2m39 0h2m11 0h2m6 0h4m3 0h2m1 0h2m2 0h2m45 0h2m13 0h2m1 0h6m1 0h2m2 0h2m3 0h2m18 0h2m22 0h2M876 876.5h2m3 0h2m2 0h2m11 0h2m8 0h3m33 0h2m11 0h2m2 0h2m8 0h2m15 0h2m49 0h2m13 0h2m1 0h6m1 0h2m2 0h4m2 0h2m17 0h2m22 0h2M872 877.5h2m2 0h2m7 0h2m11 0h3m8 0h2m7 0h2m12 0h2m8 0h4m15 0h2m8 0h2m18 0h2m29 0h2m25 0h2m8 0h3m2 0h2m1 0h2m1 0h2m2 0h2m2 0h2m8 0h2m27 0h2m6 0h2m6 0h2M872 878.5h2m20 0h7m17 0h2m2 0h2m8 0h2m8 0h2m17 0h2m8 0h2m18 0h2m4 0h2m23 0h2m25 0h4m1 0h2m3 0h5m2 0h3m2 0h3m4 0h3m7 0h2m15 0h2m18 0h2m6 0h2M873 879.5h2m8 0h2m9 0h7m3 0h2m16 0h2m1 0h2m34 0h2m34 0h2m25 0h2m13 0h2m10 0h2m1 0h2m3 0h2m1 0h2m2 0h3m2 0h3m5 0h4m22 0h2M870 880.5h2m1 0h2m8 0h2m19 0h2m19 0h2m8 0h2m24 0h2m25 0h2m34 0h2m13 0h2m3 0h2m14 0h4m1 0h4m2 0h2m4 0h2m2 0h2m7 0h4m2 0h2m21 0h2M846 881.5h2m19 0h5m10 0h2m22 0h2m27 0h2m34 0h2m1 0h2m12 0h2m54 0h2m8 0h5m1 0h8m2 0h2m5 0h2m2 0h2m7 0h4m2 0h2m18 0h2m1 0h2M844 882.5h4m19 0h3m12 0h2m4 0h2m3 0h2m6 0h2m1 0h4m8 0h4m13 0h2m4 0h3m15 0h2m4 0h2m6 0h2m1 0h2m12 0h2m8 0h2m1 0h2m14 0h2m23 0h2m10 0h5m1 0h2m1 0h4m3 0h3m4 0h2m37 0h2m8 0h2M844 883.5h2m35 0h2m5 0h2m3 0h2m2 0h2m2 0h2m1 0h2m9 0h5m12 0h4m3 0h3m15 0h2m4 0h2m23 0h2m8 0h2m1 0h2m14 0h2m6 0h2m15 0h2m7 0h2m7 0h9m1 0h3m6 0h2m43 0h4m1 0h2M879 884.5h4m14 0h2m16 0h2m2 0h2m7 0h2m2 0h4m30 0h2m2 0h2m53 0h2m24 0h2m8 0h8m1 0h2m3 0h2m2 0h2m2 0h4m23 0h2m12 0h2m3 0h2M853 885.5h2m3 0h2m5 0h2m6 0h2m4 0h2m38 0h2m7 0h2m3 0h2m3 0h2m7 0h2m17 0h2m2 0h2m28 0h2m26 0h2m3 0h2m13 0h2m7 0h2m2 0h2m1 0h2m9 0h2m1 0h2m3 0h4m23 0h2M853 886.5h2m3 0h2m4 0h3m1 0h2m3 0h2m58 0h2m3 0h2m3 0h2m2 0h3m50 0h2m22 0h2m2 0h2m3 0h2m13 0h2m7 0h2m5 0h2m7 0h4m1 0h2M864 887.5h2m2 0h3m9 0h2m45 0h2m4 0h2m8 0h2m1 0h4m5 0h3m14 0h2m7 0h2m41 0h2m13 0h2m1 0h3m8 0h2m5 0h2m2 0h4m1 0h2m2 0h4m19 0h2m7 0h2m2 0h2M869 888.5h2m9 0h2m45 0h2m4 0h2m4 0h2m4 0h3m7 0h3m14 0h2m7 0h2m16 0h2m22 0h2m1 0h2m2 0h2m5 0h4m1 0h3m7 0h3m1 0h2m2 0h5m1 0h5m6 0h3m16 0h2m7 0h2m2 0h2m18 0h2M853 889.5h2m31 0h2m51 0h2m4 0h2m34 0h2m16 0h2m22 0h2m1 0h2m2 0h2m5 0h3m12 0h3m1 0h4m1 0h6m1 0h2m3 0h2m2 0h3m22 0h2m7 0h2m16 0h2M853 890.5h2m31 0h2m52 0h2m6 0h2m13 0h2m16 0h2m29 0h2m24 0h2m1 0h4m8 0h2m2 0h3m4 0h4m5 0h2m13 0h2m10 0h6m5 0h2m1 0h2m2 0h2M939 891.5h3m6 0h2m10 0h2m1 0h2m47 0h2m22 0h4m1 0h4m5 0h2m4 0h2m7 0h3m1 0h2m10 0h3m4 0h2m10 0h2m2 0h3m4 0h2m1 0h2m2 0h2m8 0h2m11 0h2M880 892.5h2m11 0h2m10 0h2m32 0h2m15 0h2m2 0h2m74 0h4m8 0h4m4 0h5m2 0h8m10 0h3m3 0h2m16 0h2m4 0h2m15 0h2m11 0h2M879 893.5h3m11 0h2m10 0h2m3 0h2m44 0h2m54 0h2m2 0h2m29 0h5m6 0h3m2 0h7m1 0h2m8 0h3m3 0h2m5 0h2m9 0h2M872 894.5h2m5 0h2m29 0h2m64 0h2m6 0h2m26 0h2m2 0h2m6 0h2m16 0h2m3 0h4m1 0h2m4 0h2m3 0h10m21 0h2m1 0h2m6 0h2m8 0h2M872 895.5h2m102 0h2m6 0h2m10 0h2m2 0h2m22 0h2m16 0h2m5 0h2m1 0h2m3 0h2m2 0h10m26 0h2m14 0h4M951 896.5h2m9 0h2m32 0h2m2 0h2m31 0h2m7 0h2m2 0h2m4 0h2m3 0h6m4 0h2m25 0h2m12 0h4m1 0h2M884 897.5h2m29 0h2m2 0h2m30 0h2m9 0h3m23 0h2m9 0h2m32 0h2m11 0h2m3 0h2m1 0h2m1 0h4m6 0h3m13 0h2m2 0h2m5 0h2m12 0h6m20 0h2M884 898.5h2m22 0h2m5 0h2m2 0h2m25 0h2m15 0h2m3 0h2m16 0h4m9 0h2m50 0h5m3 0h2m4 0h6m1 0h4m3 0h6m2 0h2m10 0h2m1 0h4m4 0h4m20 0h2M885 899.5h2m21 0h2m36 0h2m20 0h2m16 0h2m38 0h2m2 0h3m3 0h2m4 0h2m9 0h4m1 0h3m4 0h3m1 0h2m1 0h4m3 0h5m3 0h2m4 0h2m4 0h2m1 0h6m1 0h10M885 900.5h2m38 0h2m19 0h2m3 0h2m12 0h2m59 0h2m2 0h3m3 0h2m4 0h2m10 0h3m1 0h3m4 0h2m1 0h3m3 0h4m1 0h6m8 0h2m2 0h3m3 0h5m1 0h2m2 0h6m17 0h2M891 901.5h2m32 0h2m24 0h2m4 0h2m4 0h4m3 0h2m65 0h2m9 0h2m7 0h4m2 0h2m3 0h5m1 0h4m3 0h4m7 0h2m1 0h5m3 0h3m7 0h7m16 0h2M869 902.5h2m20 0h2m21 0h2m29 0h2m10 0h4m2 0h2m5 0h2m5 0h2m54 0h6m9 0h4m5 0h2m4 0h2m2 0h8m1 0h2m14 0h2m1 0h2m9 0h3m4 0h7m2 0h2M869 903.5h2m43 0h2m29 0h2m5 0h2m5 0h2m1 0h3m6 0h2m4 0h2m16 0h2m36 0h5m12 0h2m3 0h4m3 0h2m1 0h13m28 0h3m4 0h4m1 0h6M864 904.5h2m30 0h2m54 0h2m8 0h3m6 0h2m1 0h2m5 0h2m12 0h2m16 0h2m12 0h2m7 0h2m4 0h2m1 0h2m2 0h2m3 0h10m1 0h4m1 0h8m6 0h3m21 0h2m3 0h4m3 0h2m3 0h2M864 905.5h2m4 0h2m24 0h4m23 0h2m8 0h2m13 0h2m8 0h2m3 0h2m2 0h2m2 0h2m1 0h2m5 0h2m30 0h4m3 0h2m4 0h3m3 0h4m6 0h2m1 0h2m2 0h3m2 0h9m2 0h5m2 0h3m4 0h2m3 0h3m12 0h2m6 0h3m4 0h3m5 0h2m1 0h3m13 0h2M870 906.5h2m7 0h2m17 0h2m23 0h2m8 0h4m11 0h6m4 0h3m2 0h3m1 0h2m2 0h2m42 0h2m3 0h3m3 0h2m1 0h2m1 0h4m9 0h4m1 0h2m4 0h2m1 0h5m3 0h3m2 0h5m2 0h4m16 0h7m1 0h2m4 0h4m3 0h4m2 0h2m3 0h2m8 0h2m13 0h2m10 0h2M870 907.5h2m5 0h4m33 0h2m18 0h3m13 0h4m3 0h4m2 0h3m1 0h2m22 0h2m8 0h2m18 0h2m6 0h2m1 0h2m8 0h4m1 0h2m1 0h3m2 0h2m5 0h2m3 0h4m1 0h5m1 0h5m17 0h8m3 0h6m3 0h4m7 0h2m23 0h2m6 0h2m2 0h2M877 908.5h2m35 0h2m18 0h2m11 0h2m2 0h2m4 0h4m6 0h4m2 0h2m4 0h2m10 0h4m6 0h4m37 0h4m1 0h2m1 0h3m2 0h2m7 0h4m1 0h11m4 0h2m14 0h4m2 0h11m3 0h4m7 0h2m4 0h2m1 0h2m22 0h2M907 909.5h2m38 0h2m2 0h2m6 0h2m5 0h2m1 0h2m2 0h2m4 0h3m11 0h2m7 0h3m35 0h5m2 0h2m1 0h2m4 0h2m6 0h4m2 0h4m1 0h5m4 0h2m12 0h4m1 0h2m1 0h6m7 0h7m11 0h5M907 910.5h2m41 0h2m2 0h4m1 0h3m4 0h4m6 0h3m1 0h2m2 0h2m16 0h2m30 0h2m4 0h5m2 0h2m1 0h5m1 0h5m5 0h2m2 0h4m1 0h2m1 0h2m7 0h2m4 0h2m3 0h2m3 0h2m1 0h6m2 0h2m1 0h9m12 0h2m28 0h2M897 911.5h2m38 0h4m8 0h4m1 0h8m4 0h4m2 0h3m1 0h3m3 0h4m48 0h2m4 0h2m1 0h3m1 0h2m3 0h3m1 0h7m2 0h4m5 0h4m9 0h2m4 0h2m11 0h6m2 0h2m1 0h5m16 0h2m5 0h2m21 0h2M874 912.5h2m21 0h2m6 0h2m16 0h2m9 0h2m1 0h4m8 0h5m1 0h2m1 0h4m10 0h5m5 0h2m3 0h2m37 0h2m2 0h2m8 0h2m2 0h5m2 0h2m8 0h2m2 0h8m1 0h6m13 0h2m3 0h4m4 0h2m3 0h3m1 0h5m1 0h3m21 0h2M854 913.5h2m12 0h2m4 0h2m29 0h2m12 0h7m8 0h2m1 0h2m2 0h3m6 0h4m1 0h3m1 0h2m2 0h4m1 0h2m1 0h6m1 0h2m2 0h2m3 0h2m37 0h2m2 0h2m6 0h2m5 0h2m4 0h4m2 0h6m2 0h8m3 0h4m6 0h2m1 0h4m5 0h4m2 0h2m2 0h6m1 0h9M854 914.5h2m12 0h2m33 0h2m14 0h4m1 0h2m11 0h7m6 0h4m2 0h6m1 0h7m1 0h4m3 0h3m1 0h2m54 0h2m3 0h2m5 0h5m2 0h10m5 0h2m2 0h2m2 0h2m2 0h4m1 0h4m6 0h3m2 0h2m1 0h7m1 0h3m1 0h3m3 0h2M903 915.5h2m20 0h3m6 0h2m2 0h3m3 0h2m1 0h2m1 0h4m2 0h6m2 0h2m1 0h3m3 0h3m3 0h2m19 0h2m14 0h2m4 0h2m10 0h3m2 0h2m2 0h2m5 0h4m7 0h9m1 0h3m2 0h2m2 0h2m2 0h2m10 0h2m1 0h5m3 0h5m1 0h5m2 0h2m3 0h4M865 916.5h2m39 0h2m14 0h2m1 0h3m3 0h2m1 0h3m2 0h2m3 0h5m5 0h2m2 0h5m2 0h2m4 0h5m21 0h2m1 0h2m14 0h2m4 0h2m10 0h3m2 0h3m2 0h2m1 0h3m8 0h5m1 0h10m10 0h2m6 0h8m1 0h6m1 0h9m3 0h2m5 0h2m4 0h2M865 917.5h2m29 0h2m4 0h2m2 0h2m4 0h2m6 0h4m2 0h4m1 0h2m2 0h3m1 0h2m4 0h6m1 0h8m1 0h2m2 0h2m2 0h4m6 0h2m16 0h2m41 0h10m2 0h2m2 0h6m2 0h2m2 0h5m3 0h2m2 0h2m5 0h4m1 0h4m1 0h3m1 0h6m1 0h2m2 0h2m1 0h2m5 0h2m5 0h2m2 0h2M850 918.5h2m15 0h2m27 0h2m4 0h2m8 0h2m6 0h5m1 0h4m3 0h8m6 0h4m1 0h11m4 0h5m2 0h3m1 0h5m48 0h2m9 0h7m1 0h9m1 0h4m3 0h2m1 0h4m2 0h2m2 0h2m2 0h2m1 0h4m1 0h2m3 0h7m4 0h3m4 0h5m2 0h3m4 0h2M850 919.5h2m15 0h2m19 0h2m33 0h2m6 0h6m1 0h7m1 0h11m1 0h3m6 0h2m1 0h2m2 0h6m1 0h2m1 0h4m16 0h2m8 0h4m5 0h2m5 0h5m3 0h2m3 0h3m1 0h2m1 0h7m3 0h4m3 0h2m3 0h2m2 0h3m5 0h2m6 0h2m3 0h9m1 0h8m2 0h3m3 0h2m3 0h2M871 920.5h2m15 0h2m11 0h2m6 0h2m14 0h2m1 0h6m1 0h4m2 0h7m1 0h8m1 0h3m3 0h2m2 0h2m1 0h2m3 0h4m4 0h4m7 0h2m7 0h2m8 0h4m2 0h2m1 0h2m5 0h2m1 0h4m1 0h2m2 0h2m7 0h2m2 0h4m3 0h4m1 0h3m6 0h7m6 0h2m1 0h2m3 0h12m2 0h8m5 0h2m2 0h2M864 921.5h2m5 0h2m28 0h2m6 0h4m2 0h2m1 0h2m3 0h4m1 0h6m3 0h2m3 0h14m1 0h4m3 0h2m2 0h2m1 0h4m3 0h4m2 0h2m9 0h2m23 0h2m13 0h2m4 0h5m1 0h2m6 0h5m2 0h4m1 0h3m6 0h7m5 0h3m6 0h2m1 0h2m2 0h7m1 0h10m2 0h2m7 0h2M864 922.5h2m45 0h2m2 0h2m1 0h2m1 0h8m3 0h2m6 0h3m1 0h8m3 0h7m3 0h7m1 0h2m1 0h2m1 0h4m39 0h2m8 0h2m1 0h2m4 0h2m1 0h2m1 0h2m4 0h3m1 0h7m7 0h2m5 0h6m4 0h3m1 0h4m1 0h2m2 0h2m1 0h11m2 0h7m9 0h2m29 0h2M886 923.5h2m33 0h2m2 0h4m3 0h2m3 0h2m1 0h3m3 0h8m1 0h7m3 0h18m39 0h2m2 0h2m4 0h2m4 0h2m1 0h2m1 0h2m5 0h5m3 0h5m3 0h2m2 0h2m3 0h2m1 0h5m8 0h4m1 0h6m1 0h15m1 0h4m4 0h6m30 0h2M886 924.5h2m19 0h2m5 0h2m5 0h2m2 0h4m3 0h7m2 0h2m2 0h5m2 0h2m2 0h3m1 0h2m3 0h11m1 0h4m14 0h2m29 0h2m2 0h2m4 0h4m2 0h4m1 0h2m2 0h3m8 0h2m1 0h4m7 0h2m3 0h3m8 0h4m2 0h5m2 0h7m3 0h4m1 0h3m2 0h2m1 0h6M847 925.5h2m58 0h2m3 0h4m7 0h2m2 0h3m3 0h5m2 0h2m3 0h23m1 0h4m5 0h2m4 0h2m9 0h2m19 0h2m12 0h2m4 0h8m2 0h5m1 0h4m7 0h4m3 0h2m2 0h4m2 0h2m1 0h2m7 0h4m2 0h5m2 0h3m1 0h10m1 0h3m1 0h3m11 0h2M847 926.5h2m42 0h2m6 0h2m11 0h2m1 0h2m6 0h2m1 0h12m2 0h17m1 0h9m1 0h5m5 0h2m4 0h2m6 0h2m10 0h2m10 0h2m9 0h3m7 0h23m3 0h2m1 0h6m2 0h4m2 0h2m1 0h2m6 0h2m5 0h5m1 0h3m2 0h10m5 0h3m1 0h2m8 0h2M891 927.5h2m4 0h4m9 0h4m1 0h2m4 0h18m3 0h22m1 0h9m2 0h2m1 0h2m11 0h2m10 0h2m20 0h4m6 0h3m3 0h4m2 0h4m1 0h2m1 0h4m3 0h9m3 0h2m7 0h4m2 0h3m5 0h2m4 0h14m4 0h2m2 0h6M854 928.5h2m8 0h2m31 0h2m4 0h2m1 0h3m1 0h4m5 0h9m1 0h35m1 0h9m2 0h2m1 0h2m31 0h2m12 0h4m6 0h5m3 0h6m1 0h2m1 0h3m2 0h2m2 0h6m1 0h2m3 0h3m6 0h4m2 0h3m8 0h16m5 0h2m2 0h6m8 0h2M854 929.5h2m8 0h2m37 0h6m4 0h2m4 0h9m1 0h32m1 0h10m1 0h2m37 0h2m24 0h3m3 0h6m1 0h10m6 0h2m1 0h4m2 0h4m16 0h2m3 0h15m3 0h3m4 0h2m12 0h2M903 930.5h4m6 0h2m4 0h28m1 0h9m1 0h11m1 0h8m6 0h2m53 0h2m5 0h6m1 0h8m4 0h3m4 0h2m1 0h12m4 0h10m3 0h6m2 0h2m3 0h8M873 931.5h2m36 0h6m1 0h8m1 0h4m1 0h27m1 0h7m5 0h6m2 0h2m2 0h2m49 0h2m2 0h2m1 0h10m1 0h6m2 0h2m1 0h4m1 0h3m3 0h4m1 0h7m4 0h10m1 0h4m2 0h2m4 0h2m1 0h8M873 932.5h2m36 0h2m2 0h2m1 0h8m1 0h5m2 0h6m1 0h27m3 0h2m1 0h8m46 0h4m3 0h3m4 0h4m3 0h2m1 0h15m2 0h3m3 0h4m4 0h4m2 0h2m4 0h2m5 0h6m1 0h2m2 0h3m8 0h2m38 0h2M905 933.5h2m4 0h2m7 0h4m3 0h6m1 0h26m2 0h2m2 0h4m1 0h11m14 0h2m30 0h4m4 0h2m5 0h2m1 0h2m2 0h5m1 0h10m2 0h3m3 0h4m5 0h4m2 0h2m12 0h2m1 0h5m2 0h5m5 0h3m38 0h2M895 934.5h2m8 0h2m4 0h2m9 0h39m1 0h4m2 0h3m1 0h2m1 0h2m3 0h2m1 0h2m11 0h2m16 0h2m13 0h2m6 0h2m4 0h2m1 0h2m2 0h2m4 0h7m1 0h6m4 0h2m27 0h2m3 0h11m1 0h2m1 0h2M895 935.5h2m15 0h2m2 0h2m3 0h17m1 0h22m2 0h3m3 0h2m1 0h2m1 0h2m6 0h2m29 0h2m13 0h2m6 0h2m7 0h2m2 0h2m4 0h3m3 0h2m2 0h2m6 0h3m14 0h2m7 0h2m6 0h8m1 0h2m1 0h5m5 0h2M845 936.5h2m61 0h2m2 0h2m2 0h2m2 0h31m1 0h9m1 0h6m1 0h2m2 0h4m3 0h2m57 0h2m5 0h2m2 0h2m4 0h2m1 0h5m8 0h5m14 0h2m1 0h3m3 0h2m1 0h2m1 0h4m4 0h2m5 0h2m7 0h2M845 937.5h2m61 0h2m9 0h10m1 0h21m1 0h7m3 0h6m2 0h5m1 0h2m2 0h2m48 0h2m7 0h2m7 0h9m2 0h6m7 0h5m17 0h3m2 0h9m6 0h5M886 938.5h2m21 0h2m5 0h25m1 0h9m1 0h2m2 0h4m2 0h3m1 0h2m2 0h3m3 0h2m32 0h2m8 0h2m8 0h2m9 0h2m5 0h10m2 0h5m7 0h3m4 0h2m15 0h12m4 0h8m4 0h2M860 939.5h2m24 0h2m9 0h2m10 0h3m1 0h2m1 0h12m1 0h26m1 0h4m2 0h3m8 0h4m33 0h2m8 0h2m19 0h4m3 0h10m2 0h4m3 0h2m2 0h3m2 0h5m1 0h2m2 0h2m8 0h3m6 0h3m4 0h3m2 0h3m2 0h4M860 940.5h2m34 0h3m6 0h2m3 0h8m2 0h35m1 0h8m4 0h2m2 0h5m1 0h2m16 0h2m28 0h2m11 0h3m1 0h2m5 0h2m10 0h2m3 0h2m2 0h2m3 0h5m1 0h2m1 0h3m3 0h2m10 0h5m5 0h2m2 0h2m1 0h4m2 0h2M879 941.5h2m15 0h2m7 0h2m5 0h6m2 0h6m1 0h28m3 0h6m4 0h6m4 0h2m16 0h2m28 0h2m3 0h2m6 0h3m3 0h2m3 0h3m7 0h2m5 0h2m15 0h3m4 0h2m1 0h3m6 0h2m2 0h2m1 0h2m1 0h2m5 0h2m4 0h2M879 942.5h2m4 0h2m21 0h4m1 0h2m1 0h48m4 0h4m14 0h2m43 0h2m6 0h8m3 0h7m3 0h2m1 0h8m13 0h4m6 0h3m4 0h2m3 0h6m3 0h2M885 943.5h2m5 0h4m3 0h4m2 0h2m1 0h56m2 0h5m4 0h2m2 0h2m5 0h2m46 0h2m3 0h6m4 0h2m1 0h7m1 0h11m2 0h2m5 0h2m1 0h2m1 0h3m5 0h3m3 0h3m3 0h4m5 0h2M864 944.5h2m26 0h4m2 0h5m2 0h2m3 0h51m1 0h2m2 0h2m7 0h2m2 0h4m44 0h2m5 0h2m6 0h3m1 0h2m1 0h2m1 0h2m2 0h3m2 0h2m1 0h5m2 0h4m5 0h2m1 0h2m2 0h2m2 0h2m1 0h3m3 0h5m2 0h2m1 0h3m7 0h2m44 0h2M864 945.5h2m32 0h4m4 0h2m2 0h2m1 0h2m1 0h6m1 0h36m1 0h10m10 0h3m43 0h5m11 0h6m5 0h5m7 0h3m3 0h5m3 0h2m6 0h2m2 0h2m7 0h5m2 0h2m1 0h3m3 0h2m2 0h4m5 0h3m34 0h2M889 946.5h2m4 0h2m9 0h3m2 0h12m1 0h31m2 0h13m3 0h2m22 0h2m27 0h2m1 0h2m13 0h2m7 0h3m9 0h2m3 0h6m1 0h4m21 0h4m3 0h2m5 0h2m2 0h4m5 0h3m1 0h2M889 947.5h2m4 0h2m8 0h39m1 0h8m1 0h12m1 0h2m4 0h2m22 0h2m26 0h2m8 0h4m6 0h4m6 0h4m1 0h4m1 0h2m3 0h4m1 0h4m23 0h5m1 0h3m4 0h3m2 0h2m2 0h2m7 0h2M868 948.5h2m21 0h2m2 0h2m3 0h8m1 0h5m1 0h30m2 0h10m1 0h8m1 0h2m56 0h2m8 0h4m3 0h2m1 0h4m6 0h4m1 0h4m1 0h2m8 0h2m21 0h2m5 0h2m1 0h2m1 0h2m2 0h3m6 0h2M868 949.5h2m9 0h2m5 0h2m3 0h6m3 0h8m2 0h46m2 0h5m16 0h2m45 0h2m14 0h11m3 0h3m3 0h2m1 0h2m1 0h2m2 0h2m3 0h2m19 0h4m3 0h3m3 0h2M879 950.5h2m5 0h2m5 0h3m5 0h9m3 0h43m3 0h4m16 0h2m45 0h2m15 0h4m2 0h4m2 0h6m7 0h2m2 0h2m3 0h3m1 0h2m17 0h2m4 0h2m9 0h2m15 0h2M894 951.5h2m5 0h9m1 0h41m1 0h3m4 0h2m73 0h2m8 0h2m2 0h2m3 0h11m1 0h2m4 0h2m4 0h2m1 0h2m10 0h2m5 0h2m15 0h2m5 0h2m8 0h2M888 952.5h2m5 0h2m1 0h2m1 0h12m1 0h8m1 0h5m1 0h15m1 0h8m1 0h5m1 0h2m1 0h3m36 0h2m31 0h2m8 0h2m1 0h2m1 0h2m1 0h5m2 0h7m10 0h2m13 0h2m3 0h4m5 0h2m15 0h2M888 953.5h2m3 0h7m2 0h38m1 0h7m1 0h4m1 0h5m3 0h4m36 0h2m13 0h2m18 0h2m9 0h2m1 0h2m1 0h2m8 0h4m1 0h2m2 0h2m3 0h2m2 0h2m14 0h2m1 0h4m2 0h5m3 0h2m3 0h2M893 954.5h2m2 0h2m3 0h3m3 0h32m1 0h6m1 0h10m3 0h4m52 0h2m18 0h2m9 0h2m4 0h2m4 0h2m1 0h5m1 0h2m2 0h2m7 0h2m6 0h4m7 0h4m1 0h6m3 0h2m3 0h2m10 0h2M900 955.5h5m3 0h39m1 0h2m2 0h5m4 0h4m58 0h2m6 0h2m3 0h2m10 0h4m5 0h2m1 0h2m1 0h4m2 0h2m2 0h2m1 0h2m3 0h2m6 0h5m12 0h2m22 0h4m1 0h2M890 956.5h2m6 0h50m5 0h3m3 0h2m7 0h2m53 0h2m6 0h2m3 0h2m12 0h2m5 0h5m11 0h2m1 0h2m3 0h2m6 0h2m14 0h2m23 0h2m3 0h2M861 957.5h2m24 0h5m1 0h2m1 0h4m1 0h27m1 0h10m1 0h4m1 0h5m1 0h2m1 0h2m2 0h3m7 0h2m85 0h7m11 0h2m3 0h2m25 0h2m6 0h2m10 0h2M861 958.5h2m19 0h4m1 0h4m2 0h2m1 0h2m5 0h38m2 0h3m1 0h3m1 0h5m2 0h2m2 0h2m23 0h2m43 0h2m16 0h2m3 0h3m6 0h2m1 0h2m4 0h2m3 0h2m7 0h2m24 0h2m3 0h2m5 0h2M882 959.5h4m3 0h5m3 0h2m3 0h13m2 0h25m1 0h3m1 0h4m1 0h4m3 0h2m1 0h2m1 0h2m20 0h2m43 0h2m5 0h2m9 0h2m4 0h2m6 0h2m1 0h2m4 0h2m11 0h3m3 0h2m24 0h2M885 960.5h2m3 0h4m3 0h3m1 0h3m1 0h37m1 0h2m2 0h4m2 0h3m3 0h3m3 0h2m39 0h2m27 0h2m2 0h2m8 0h2m8 0h2m3 0h2m7 0h2m8 0h2m1 0h4m1 0h3m14 0h2m5 0h2M885 961.5h2m4 0h5m1 0h16m1 0h28m2 0h2m1 0h4m2 0h2m5 0h2m5 0h2m37 0h2m27 0h2m12 0h4m6 0h4m1 0h2m6 0h2m9 0h2m3 0h2m1 0h2m15 0h2m5 0h2M891 962.5h11m1 0h8m1 0h19m1 0h11m1 0h2m1 0h3m2 0h3m12 0h3m23 0h2m47 0h2m7 0h2m7 0h5m7 0h2m4 0h2m24 0h4M880 963.5h4m12 0h6m2 0h7m1 0h5m1 0h14m2 0h5m2 0h2m5 0h2m2 0h2m6 0h2m6 0h2m23 0h2m47 0h2m16 0h2m1 0h2m6 0h2m5 0h2m4 0h2m13 0h2m3 0h4M864 964.5h2m9 0h2m3 0h4m13 0h2m1 0h2m1 0h8m1 0h28m4 0h2m2 0h2m10 0h3m4 0h2m88 0h2m4 0h2m6 0h2m11 0h2m13 0h2m5 0h2M851 965.5h2m11 0h2m9 0h2m20 0h2m4 0h8m1 0h29m2 0h5m12 0h3m4 0h2m27 0h2m40 0h2m14 0h2m1 0h3m4 0h2m22 0h2M851 966.5h2m32 0h2m10 0h32m1 0h3m2 0h6m2 0h2m1 0h2m12 0h2m5 0h2m27 0h2m40 0h2m14 0h2m2 0h2m2 0h4m3 0h2m13 0h2m2 0h3m5 0h2M867 967.5h2m16 0h3m7 0h31m1 0h4m4 0h6m2 0h3m2 0h2m3 0h3m5 0h2m67 0h2m2 0h2m22 0h2m2 0h2m5 0h2m13 0h2m3 0h2m5 0h2m2 0h2M850 968.5h2m15 0h2m5 0h2m10 0h2m2 0h4m1 0h5m3 0h28m3 0h7m3 0h2m2 0h8m5 0h2m67 0h2m2 0h2m17 0h2m1 0h2m6 0h2m4 0h2m28 0h2m32 0h2M850 969.5h2m22 0h2m4 0h2m7 0h12m1 0h29m3 0h5m1 0h2m1 0h2m1 0h9m98 0h2m1 0h2m6 0h2m2 0h4m14 0h2m46 0h2M880 970.5h2m2 0h2m3 0h7m1 0h18m1 0h9m1 0h4m5 0h3m2 0h5m1 0h5m2 0h2m93 0h2m18 0h2m16 0h2M884 971.5h3m6 0h3m1 0h2m1 0h3m1 0h4m1 0h16m2 0h3m1 0h6m2 0h2m1 0h2m5 0h2m63 0h2m25 0h2m5 0h2m1 0h2m28 0h2m24 0h2M885 972.5h2m4 0h8m1 0h8m1 0h17m1 0h2m2 0h6m2 0h2m73 0h2m25 0h2m6 0h4m11 0h2m12 0h2m1 0h2m24 0h2m43 0h2M891 973.5h6m3 0h10m1 0h3m1 0h6m2 0h4m5 0h2m15 0h2m98 0h2m7 0h2m4 0h2m12 0h2m22 0h2m48 0h2M877 974.5h2m1 0h2m14 0h2m2 0h10m5 0h6m2 0h4m5 0h2m10 0h2m3 0h2m4 0h2m101 0h2m11 0h2m3 0h4m8 0h2m12 0h2m19 0h2M877 975.5h2m1 0h2m7 0h6m1 0h2m2 0h3m1 0h6m2 0h2m1 0h7m3 0h3m5 0h4m3 0h2m2 0h2m3 0h2m4 0h3m8 0h2m103 0h2m3 0h2m10 0h2m22 0h2m9 0h2M888 976.5h8m3 0h12m1 0h5m1 0h6m1 0h4m4 0h4m1 0h4m3 0h2m2 0h3m4 0h2m8 0h2m90 0h2m6 0h2m44 0h2M881 977.5h2m5 0h3m1 0h5m2 0h12m1 0h8m2 0h2m1 0h5m4 0h8m3 0h2m3 0h2m91 0h2m13 0h2m6 0h6m7 0h2m3 0h2m35 0h2M881 978.5h2m12 0h6m1 0h9m1 0h2m2 0h7m4 0h5m2 0h4m7 0h2m96 0h2m12 0h2m9 0h4m1 0h2m4 0h2m3 0h2m35 0h2M877 979.5h2m5 0h2m11 0h4m1 0h5m2 0h2m1 0h4m1 0h8m2 0h5m2 0h2m22 0h2m88 0h2m7 0h3m13 0h2m9 0h2m34 0h2M877 980.5h2m3 0h4m1 0h2m1 0h3m4 0h3m4 0h2m3 0h13m1 0h2m3 0h3m5 0h2m5 0h3m2 0h2m8 0h2m88 0h2m8 0h2m24 0h2m1 0h2m31 0h2M882 981.5h2m3 0h2m1 0h3m1 0h2m5 0h4m3 0h5m2 0h5m9 0h2m5 0h2m5 0h7m16 0h2m75 0h2m42 0h2m26 0h2M866 982.5h2m5 0h2m17 0h4m5 0h15m2 0h4m1 0h4m3 0h2m14 0h2m18 0h2m75 0h2m70 0h4M862 983.5h2m2 0h2m5 0h3m5 0h2m9 0h4m3 0h5m1 0h6m1 0h7m1 0h7m3 0h2m84 0h2m27 0h2m1 0h2m67 0h2m15 0h2M862 984.5h2m10 0h2m5 0h4m1 0h2m3 0h2m1 0h4m1 0h5m4 0h5m3 0h10m90 0h2m27 0h2m1 0h2m66 0h2m16 0h2M860 985.5h2m18 0h2m1 0h2m1 0h2m1 0h5m1 0h3m1 0h5m4 0h2m1 0h2m3 0h7m6 0h2m121 0h2m6 0h2m54 0h2M860 986.5h2m18 0h2m1 0h4m1 0h3m1 0h2m1 0h2m1 0h5m1 0h2m1 0h3m1 0h2m2 0h4m4 0h2m4 0h2m98 0h2m21 0h2m6 0h2M869 987.5h2m10 0h11m3 0h2m1 0h2m1 0h2m1 0h2m1 0h6m2 0h2m1 0h2m3 0h4m102 0h2m65 0h2M869 988.5h3m9 0h7m1 0h3m17 0h2m7 0h2m5 0h2m35 0h2m101 0h2m29 0h2m13 0h2M870 989.5h2m12 0h2m6 0h2m2 0h2m1 0h2m8 0h3m1 0h2m47 0h2m101 0h2m44 0h2M891 990.5h3m2 0h2m1 0h2m8 0h3m1 0h2m1 0h4m70 0h2M866 991.5h2m5 0h2m16 0h2m5 0h2m13 0h2m1 0h4m6 0h2m11 0h2m18 0h2m29 0h2M851 992.5h2m13 0h2m5 0h2m5 0h2m16 0h2m13 0h2m11 0h4m9 0h2m18 0h2m93 0h2M851 993.5h2m7 0h2m18 0h2m1 0h2m7 0h5m6 0h2m5 0h2m16 0h2m124 0h2m30 0h2M860 994.5h2m21 0h2m7 0h5m6 0h2m5 0h2m153 0h2m19 0h2M1065 995.5h2M871 996.5h2m5 0h2m23 0h2m5 0h2m27 0h2m4 0h2M871 997.5h2m5 0h2m11 0h2m4 0h2m4 0h2m5 0h2m19 0h2m6 0h2m4 0h2m110 0h2M891 998.5h2m4 0h2m32 0h2m124 0h2M870 999.5h2m231 0h2M870 1000.5h2m5 0h2m11 0h4m3 0h2m2 0h2m3 0h2m195 0h2M877 1001.5h2m11 0h4m3 0h2m2 0h2m3 0h2m169 0h2M884 1002.5h2m160 0h2m8 0h2m19 0h2m35 0h2m25 0h2M884 1003.5h2m21 0h2m3 0h2m39 0h2m71 0h2m18 0h2m8 0h2m56 0h2m25 0h2M864 1004.5h2m37 0h2m2 0h2m3 0h2m39 0h2m71 0h2M864 1005.5h3m20 0h2m14 0h2M865 1006.5h2m18 0h4m171 0h2M885 1007.5h2m173 0h2m20 0h2M1082 1008.5h2m11 0h2M1095 1009.5h2M849 1011.5h2m17 0h2m182 0h2M849 1012.5h2m17 0h2m182 0h2M1038 1013.5h2m73 0h2M1038 1014.5h2m73 0h2M845 1015.5h2m5 0h2M845 1016.5h2m5 0h2m10 0h2M864 1017.5h2M906 1018.5h2M906 1019.5h2M1110 1024.5h2M1110 1025.5h2" stroke="#f55a50" stroke-width="1" fill="none" shape-rendering="crispEdges"/>
<path d="M264.00 475.48h5M264.00 465.21h5M264.00 456.82h5M264.00 449.72h5M264.00 443.57h5M264.00 438.15h5M261.50 433.30h10.5M264.00 401.39h5M264.00 382.73h5M264.00 369.48h5M264.00 359.21h5M264.00 350.82h5M264.00 343.72h5M264.00 337.57h5M264.00 332.15h5M261.50 327.30h10.5M264.00 295.39h5M264.00 276.73h5M264.00 263.48h5M264.00 253.21h5M264.00 244.82h5M264.00 237.72h5M264.00 231.57h5M264.00 226.15h5M261.50 221.30h10.5M264.00 189.39h5M264.00 170.73h5M264.00 157.48h5M264.00 147.21h5M264.00 138.82h5M264.00 131.72h5M264.00 125.57h5M264.00 120.15h5M261.50 115.30h10.5M264.00 83.39h5M264.00 64.73h5M264.00 51.48h5M264.00 41.21h5M264.00 32.82h5M264.00 25.72h5M264.00 19.57h5M274.81 485.50v-5M281.43 485.50v-5M287.27 485.50v-5M292.50 488.00v-10.5M326.88 485.50v-5M346.99 485.50v-5M361.26 485.50v-5M372.32 485.50v-5M381.36 485.50v-5M389.01 485.50v-5M395.63 485.50v-5M401.47 485.50v-5M406.70 488.00v-10.5M441.08 485.50v-5M461.19 485.50v-5M475.46 485.50v-5M486.52 485.50v-5M495.56 485.50v-5M503.21 485.50v-5M509.83 485.50v-5M515.67 485.50v-5M520.90 488.00v-10.5M555.28 485.50v-5M575.39 485.50v-5M589.66 485.50v-5M600.72 485.50v-5M609.76 485.50v-5M617.41 485.50v-5M624.03 485.50v-5M629.87 485.50v-5M635.10 488.00v-10.5M669.48 485.50v-5M689.59 485.50v-5M703.86 485.50v-5M714.92 485.50v-5M723.96 485.50v-5M731.61 485.50v-5M738.23 485.50v-5M744.07 485.50v-5M749.30 488.00v-10.5" stroke="#000" stroke-width="1.7" fill="none"/><path d="M443 15V483M266.5 317H771.5" stroke="#000" stroke-width="2" fill="none"/><rect x="266.5" y="15" width="505.0" height="468" stroke="#000" stroke-width="2.2" fill="none"/><g transform="translate(203.60 444.75) scale(1.0 1)"><text font-family="Liberation Sans, sans-serif" font-size="23.4" style="font-kerning:none"> 0</text><use href="#one" transform="translate(0.00 0) scale(0.01143 -0.01108)"/></g><g transform="translate(229.63 431.15) scale(1.0 1)"><text font-family="Liberation Sans, sans-serif" font-size="20.8" style="font-kerning:none">2</text></g><g transform="translate(203.60 338.75) scale(1.0 1)"><text font-family="Liberation Sans, sans-serif" font-size="23.4" style="font-kerning:none"> 0</text><use href="#one" transform="translate(0.00 0) scale(0.01143 -0.01108)"/></g><g transform="translate(229.63 325.15) scale(1.0 1)"><text font-family="Liberation Sans, sans-serif" font-size="20.8" style="font-kerning:none">3</text></g><g transform="translate(203.60 232.75) scale(1.0 1)"><text font-family="Liberation Sans, sans-serif" font-size="23.4" style="font-kerning:none"> 0</text><use href="#one" transform="translate(0.00 0) scale(0.01143 -0.01108)"/></g><g transform="translate(229.63 219.15) scale(1.0 1)"><text font-family="Liberation Sans, sans-serif" font-size="20.8" style="font-kerning:none">4</text></g><g transform="translate(203.60 126.75) scale(1.0 1)"><text font-family="Liberation Sans, sans-serif" font-size="23.4" style="font-kerning:none"> 0</text><use href="#one" transform="translate(0.00 0) scale(0.01143 -0.01108)"/></g><g transform="translate(229.63 113.15) scale(1.0 1)"><text font-family="Liberation Sans, sans-serif" font-size="20.8" style="font-kerning:none">5</text></g><g transform="translate(260.90 527.70) scale(1.0 1)"><text font-family="Liberation Sans, sans-serif" font-size="23.4" style="font-kerning:none"> 0</text><use href="#one" transform="translate(0.00 0) scale(0.01143 -0.01108)"/></g><g transform="translate(286.93 514.70) scale(1.0 1)"><text font-family="Liberation Sans, sans-serif" font-size="20.8" style="font-kerning:none">2</text></g><g transform="translate(375.10 527.70) scale(1.0 1)"><text font-family="Liberation Sans, sans-serif" font-size="23.4" style="font-kerning:none"> 0</text><use href="#one" transform="translate(0.00 0) scale(0.01143 -0.01108)"/></g><g transform="translate(401.13 514.70) scale(1.0 1)"><text font-family="Liberation Sans, sans-serif" font-size="20.8" style="font-kerning:none">3</text></g><g transform="translate(489.30 527.70) scale(1.0 1)"><text font-family="Liberation Sans, sans-serif" font-size="23.4" style="font-kerning:none"> 0</text><use href="#one" transform="translate(0.00 0) scale(0.01143 -0.01108)"/></g><g transform="translate(515.33 514.70) scale(1.0 1)"><text font-family="Liberation Sans, sans-serif" font-size="20.8" style="font-kerning:none">4</text></g><g transform="translate(603.50 527.70) scale(1.0 1)"><text font-family="Liberation Sans, sans-serif" font-size="23.4" style="font-kerning:none"> 0</text><use href="#one" transform="translate(0.00 0) scale(0.01143 -0.01108)"/></g><g transform="translate(629.53 514.70) scale(1.0 1)"><text font-family="Liberation Sans, sans-serif" font-size="20.8" style="font-kerning:none">5</text></g><g transform="translate(717.70 527.70) scale(1.0 1)"><text font-family="Liberation Sans, sans-serif" font-size="23.4" style="font-kerning:none"> 0</text><use href="#one" transform="translate(0.00 0) scale(0.01143 -0.01108)"/></g><g transform="translate(743.73 514.70) scale(1.0 1)"><text font-family="Liberation Sans, sans-serif" font-size="20.8" style="font-kerning:none">6</text></g><g transform="translate(271.10 34.90) scale(1.0 1)"><text font-family="Liberation Sans, sans-serif" font-size="21.3" style="font-kerning:none">Q - </text><use href="#one" transform="translate(16.57 0) scale(0.01040 -0.01009)"/><use href="#one" transform="translate(35.51 0) scale(0.01040 -0.01009)"/></g><g transform="translate(271.10 59.70) scale(1.0 1)"><text font-family="Liberation Sans, sans-serif" font-size="21.3" style="font-kerning:none"> .00%</text><use href="#one" transform="translate(0.00 0) scale(0.01040 -0.01009)"/></g><g transform="translate(704.10 34.90) scale(1.0 1)"><text font-family="Liberation Sans, sans-serif" font-size="21.3" style="font-kerning:none">Q -2</text><use href="#one" transform="translate(16.57 0) scale(0.01040 -0.01009)"/></g><g transform="translate(704.10 59.70) scale(1.0 1)"><text font-family="Liberation Sans, sans-serif" font-size="21.3" style="font-kerning:none">0.47%</text></g><g transform="translate(271.10 450.20) scale(1.0 1)"><text font-family="Liberation Sans, sans-serif" font-size="21.3" style="font-kerning:none">Q -3</text><use href="#one" transform="translate(16.57 0) scale(0.01040 -0.01009)"/></g><g transform="translate(271.10 474.60) scale(1.0 1)"><text font-family="Liberation Sans, sans-serif" font-size="21.3" style="font-kerning:none">98.04%</text></g><g transform="translate(704.10 450.20) scale(1.0 1)"><text font-family="Liberation Sans, sans-serif" font-size="21.3" style="font-kerning:none">Q -4</text><use href="#one" transform="translate(16.57 0) scale(0.01040 -0.01009)"/></g><g transform="translate(704.10 474.60) scale(1.0 1)"><text font-family="Liberation Sans, sans-serif" font-size="21.3" style="font-kerning:none">0.49%</text></g>
<path d="M837.50 467.98h5M837.50 457.71h5M837.50 449.32h5M837.50 442.22h5M837.50 436.07h5M837.50 430.65h5M835.00 425.80h10.5M837.50 393.89h5M837.50 375.23h5M837.50 361.98h5M837.50 351.71h5M837.50 343.32h5M837.50 336.22h5M837.50 330.07h5M837.50 324.65h5M835.00 319.80h10.5M837.50 287.89h5M837.50 269.23h5M837.50 255.98h5M837.50 245.71h5M837.50 237.32h5M837.50 230.22h5M837.50 224.07h5M837.50 218.65h5M835.00 213.80h10.5M837.50 181.89h5M837.50 163.23h5M837.50 149.98h5M837.50 139.71h5M837.50 131.32h5M837.50 124.22h5M837.50 118.07h5M837.50 112.65h5M835.00 107.80h10.5M837.50 75.89h5M837.50 57.23h5M837.50 43.98h5M837.50 33.71h5M837.50 25.32h5M837.50 18.22h5M837.50 12.07h5M848.31 478.50v-5M854.93 478.50v-5M860.77 478.50v-5M866.00 481.00v-10.5M900.38 478.50v-5M920.49 478.50v-5M934.76 478.50v-5M945.82 478.50v-5M954.86 478.50v-5M962.51 478.50v-5M969.13 478.50v-5M974.97 478.50v-5M980.20 481.00v-10.5M1014.58 478.50v-5M1034.69 478.50v-5M1048.96 478.50v-5M1060.02 478.50v-5M1069.06 478.50v-5M1076.71 478.50v-5M1083.33 478.50v-5M1089.17 478.50v-5M1094.40 481.00v-10.5M1128.78 478.50v-5M1148.89 478.50v-5M1163.16 478.50v-5M1174.22 478.50v-5M1183.26 478.50v-5M1190.91 478.50v-5M1197.53 478.50v-5M1203.37 478.50v-5M1208.60 481.00v-10.5M1242.98 478.50v-5M1263.09 478.50v-5M1277.36 478.50v-5M1288.42 478.50v-5M1297.46 478.50v-5M1305.11 478.50v-5M1311.73 478.50v-5M1317.57 478.50v-5M1322.80 481.00v-10.5" stroke="#000" stroke-width="1.7" fill="none"/><path d="M1016.25 7.5V476M840 309.5H1345" stroke="#000" stroke-width="2" fill="none"/><rect x="840" y="7.5" width="505" height="468.5" stroke="#000" stroke-width="2.2" fill="none"/><g transform="translate(777.10 437.25) scale(1.0 1)"><text font-family="Liberation Sans, sans-serif" font-size="23.4" style="font-kerning:none"> 0</text><use href="#one" transform="translate(0.00 0) scale(0.01143 -0.01108)"/></g><g transform="translate(803.13 423.65) scale(1.0 1)"><text font-family="Liberation Sans, sans-serif" font-size="20.8" style="font-kerning:none">2</text></g><g transform="translate(777.10 331.25) scale(1.0 1)"><text font-family="Liberation Sans, sans-serif" font-size="23.4" style="font-kerning:none"> 0</text><use href="#one" transform="translate(0.00 0) scale(0.01143 -0.01108)"/></g><g transform="translate(803.13 317.65) scale(1.0 1)"><text font-family="Liberation Sans, sans-serif" font-size="20.8" style="font-kerning:none">3</text></g><g transform="translate(777.10 225.25) scale(1.0 1)"><text font-family="Liberation Sans, sans-serif" font-size="23.4" style="font-kerning:none"> 0</text><use href="#one" transform="translate(0.00 0) scale(0.01143 -0.01108)"/></g><g transform="translate(803.13 211.65) scale(1.0 1)"><text font-family="Liberation Sans, sans-serif" font-size="20.8" style="font-kerning:none">4</text></g><g transform="translate(777.10 119.25) scale(1.0 1)"><text font-family="Liberation Sans, sans-serif" font-size="23.4" style="font-kerning:none"> 0</text><use href="#one" transform="translate(0.00 0) scale(0.01143 -0.01108)"/></g><g transform="translate(803.13 105.65) scale(1.0 1)"><text font-family="Liberation Sans, sans-serif" font-size="20.8" style="font-kerning:none">5</text></g><g transform="translate(834.40 520.70) scale(1.0 1)"><text font-family="Liberation Sans, sans-serif" font-size="23.4" style="font-kerning:none"> 0</text><use href="#one" transform="translate(0.00 0) scale(0.01143 -0.01108)"/></g><g transform="translate(860.43 507.70) scale(1.0 1)"><text font-family="Liberation Sans, sans-serif" font-size="20.8" style="font-kerning:none">2</text></g><g transform="translate(948.60 520.70) scale(1.0 1)"><text font-family="Liberation Sans, sans-serif" font-size="23.4" style="font-kerning:none"> 0</text><use href="#one" transform="translate(0.00 0) scale(0.01143 -0.01108)"/></g><g transform="translate(974.63 507.70) scale(1.0 1)"><text font-family="Liberation Sans, sans-serif" font-size="20.8" style="font-kerning:none">3</text></g><g transform="translate(1062.80 520.70) scale(1.0 1)"><text font-family="Liberation Sans, sans-serif" font-size="23.4" style="font-kerning:none"> 0</text><use href="#one" transform="translate(0.00 0) scale(0.01143 -0.01108)"/></g><g transform="translate(1088.83 507.70) scale(1.0 1)"><text font-family="Liberation Sans, sans-serif" font-size="20.8" style="font-kerning:none">4</text></g><g transform="translate(1177.00 520.70) scale(1.0 1)"><text font-family="Liberation Sans, sans-serif" font-size="23.4" style="font-kerning:none"> 0</text><use href="#one" transform="translate(0.00 0) scale(0.01143 -0.01108)"/></g><g transform="translate(1203.03 507.70) scale(1.0 1)"><text font-family="Liberation Sans, sans-serif" font-size="20.8" style="font-kerning:none">5</text></g><g transform="translate(1291.20 520.70) scale(1.0 1)"><text font-family="Liberation Sans, sans-serif" font-size="23.4" style="font-kerning:none"> 0</text><use href="#one" transform="translate(0.00 0) scale(0.01143 -0.01108)"/></g><g transform="translate(1317.23 507.70) scale(1.0 1)"><text font-family="Liberation Sans, sans-serif" font-size="20.8" style="font-kerning:none">6</text></g><g transform="translate(844.60 27.40) scale(1.0 1)"><text font-family="Liberation Sans, sans-serif" font-size="21.3" style="font-kerning:none">Q - </text><use href="#one" transform="translate(16.57 0) scale(0.01040 -0.01009)"/><use href="#one" transform="translate(35.51 0) scale(0.01040 -0.01009)"/></g><g transform="translate(844.60 52.20) scale(1.0 1)"><text font-family="Liberation Sans, sans-serif" font-size="21.3" style="font-kerning:none">2. 5%</text><use href="#one" transform="translate(17.76 0) scale(0.01040 -0.01009)"/></g><g transform="translate(1277.60 27.40) scale(1.0 1)"><text font-family="Liberation Sans, sans-serif" font-size="21.3" style="font-kerning:none">Q -2</text><use href="#one" transform="translate(16.57 0) scale(0.01040 -0.01009)"/></g><g transform="translate(1277.60 52.20) scale(1.0 1)"><text font-family="Liberation Sans, sans-serif" font-size="21.3" style="font-kerning:none">0.93%</text></g><g transform="translate(844.60 443.20) scale(1.0 1)"><text font-family="Liberation Sans, sans-serif" font-size="21.3" style="font-kerning:none">Q -3</text><use href="#one" transform="translate(16.57 0) scale(0.01040 -0.01009)"/></g><g transform="translate(844.60 467.60) scale(1.0 1)"><text font-family="Liberation Sans, sans-serif" font-size="21.3" style="font-kerning:none">93.02%</text></g><g transform="translate(1277.60 443.20) scale(1.0 1)"><text font-family="Liberation Sans, sans-serif" font-size="21.3" style="font-kerning:none">Q -4</text><use href="#one" transform="translate(16.57 0) scale(0.01040 -0.01009)"/></g><g transform="translate(1277.60 467.60) scale(1.0 1)"><text font-family="Liberation Sans, sans-serif" font-size="21.3" style="font-kerning:none">3.89%</text></g>
<path d="M265.75 1042.48h5M265.75 1032.21h5M265.75 1023.82h5M265.75 1016.72h5M265.75 1010.57h5M265.75 1005.15h5M263.25 1000.30h10.5M265.75 968.39h5M265.75 949.73h5M265.75 936.48h5M265.75 926.21h5M265.75 917.82h5M265.75 910.72h5M265.75 904.57h5M265.75 899.15h5M263.25 894.30h10.5M265.75 862.39h5M265.75 843.73h5M265.75 830.48h5M265.75 820.21h5M265.75 811.82h5M265.75 804.72h5M265.75 798.57h5M265.75 793.15h5M263.25 788.30h10.5M265.75 756.39h5M265.75 737.73h5M265.75 724.48h5M265.75 714.21h5M265.75 705.82h5M265.75 698.72h5M265.75 692.57h5M265.75 687.15h5M263.25 682.30h10.5M265.75 650.39h5M265.75 631.73h5M265.75 618.48h5M265.75 608.21h5M265.75 599.82h5M265.75 592.72h5M265.75 586.57h5M276.56 1052.75v-5M283.18 1052.75v-5M289.02 1052.75v-5M294.25 1055.25v-10.5M328.63 1052.75v-5M348.74 1052.75v-5M363.01 1052.75v-5M374.07 1052.75v-5M383.11 1052.75v-5M390.76 1052.75v-5M397.38 1052.75v-5M403.22 1052.75v-5M408.45 1055.25v-10.5M442.83 1052.75v-5M462.94 1052.75v-5M477.21 1052.75v-5M488.27 1052.75v-5M497.31 1052.75v-5M504.96 1052.75v-5M511.58 1052.75v-5M517.42 1052.75v-5M522.65 1055.25v-10.5M557.03 1052.75v-5M577.14 1052.75v-5M591.41 1052.75v-5M602.47 1052.75v-5M611.51 1052.75v-5M619.16 1052.75v-5M625.78 1052.75v-5M631.62 1052.75v-5M636.85 1055.25v-10.5M671.23 1052.75v-5M691.34 1052.75v-5M705.61 1052.75v-5M716.67 1052.75v-5M725.71 1052.75v-5M733.36 1052.75v-5M739.98 1052.75v-5M745.82 1052.75v-5M751.05 1055.25v-10.5" stroke="#000" stroke-width="1.7" fill="none"/><path d="M445 582V1050.25M268.25 884H773.25" stroke="#000" stroke-width="2" fill="none"/><rect x="268.25" y="582" width="505.0" height="468.25" stroke="#000" stroke-width="2.2" fill="none"/><g transform="translate(205.35 1011.75) scale(1.0 1)"><text font-family="Liberation Sans, sans-serif" font-size="23.4" style="font-kerning:none"> 0</text><use href="#one" transform="translate(0.00 0) scale(0.01143 -0.01108)"/></g><g transform="translate(231.38 998.15) scale(1.0 1)"><text font-family="Liberation Sans, sans-serif" font-size="20.8" style="font-kerning:none">2</text></g><g transform="translate(205.35 905.75) scale(1.0 1)"><text font-family="Liberation Sans, sans-serif" font-size="23.4" style="font-kerning:none"> 0</text><use href="#one" transform="translate(0.00 0) scale(0.01143 -0.01108)"/></g><g transform="translate(231.38 892.15) scale(1.0 1)"><text font-family="Liberation Sans, sans-serif" font-size="20.8" style="font-kerning:none">3</text></g><g transform="translate(205.35 799.75) scale(1.0 1)"><text font-family="Liberation Sans, sans-serif" font-size="23.4" style="font-kerning:none"> 0</text><use href="#one" transform="translate(0.00 0) scale(0.01143 -0.01108)"/></g><g transform="translate(231.38 786.15) scale(1.0 1)"><text font-family="Liberation Sans, sans-serif" font-size="20.8" style="font-kerning:none">4</text></g><g transform="translate(205.35 693.75) scale(1.0 1)"><text font-family="Liberation Sans, sans-serif" font-size="23.4" style="font-kerning:none"> 0</text><use href="#one" transform="translate(0.00 0) scale(0.01143 -0.01108)"/></g><g transform="translate(231.38 680.15) scale(1.0 1)"><text font-family="Liberation Sans, sans-serif" font-size="20.8" style="font-kerning:none">5</text></g><g transform="translate(262.65 1094.95) scale(1.0 1)"><text font-family="Liberation Sans, sans-serif" font-size="23.4" style="font-kerning:none"> 0</text><use href="#one" transform="translate(0.00 0) scale(0.01143 -0.01108)"/></g><g transform="translate(288.68 1081.95) scale(1.0 1)"><text font-family="Liberation Sans, sans-serif" font-size="20.8" style="font-kerning:none">2</text></g><g transform="translate(376.85 1094.95) scale(1.0 1)"><text font-family="Liberation Sans, sans-serif" font-size="23.4" style="font-kerning:none"> 0</text><use href="#one" transform="translate(0.00 0) scale(0.01143 -0.01108)"/></g><g transform="translate(402.88 1081.95) scale(1.0 1)"><text font-family="Liberation Sans, sans-serif" font-size="20.8" style="font-kerning:none">3</text></g><g transform="translate(491.05 1094.95) scale(1.0 1)"><text font-family="Liberation Sans, sans-serif" font-size="23.4" style="font-kerning:none"> 0</text><use href="#one" transform="translate(0.00 0) scale(0.01143 -0.01108)"/></g><g transform="translate(517.08 1081.95) scale(1.0 1)"><text font-family="Liberation Sans, sans-serif" font-size="20.8" style="font-kerning:none">4</text></g><g transform="translate(605.25 1094.95) scale(1.0 1)"><text font-family="Liberation Sans, sans-serif" font-size="23.4" style="font-kerning:none"> 0</text><use href="#one" transform="translate(0.00 0) scale(0.01143 -0.01108)"/></g><g transform="translate(631.28 1081.95) scale(1.0 1)"><text font-family="Liberation Sans, sans-serif" font-size="20.8" style="font-kerning:none">5</text></g><g transform="translate(719.45 1094.95) scale(1.0 1)"><text font-family="Liberation Sans, sans-serif" font-size="23.4" style="font-kerning:none"> 0</text><use href="#one" transform="translate(0.00 0) scale(0.01143 -0.01108)"/></g><g transform="translate(745.48 1081.95) scale(1.0 1)"><text font-family="Liberation Sans, sans-serif" font-size="20.8" style="font-kerning:none">6</text></g><g transform="translate(272.85 601.90) scale(1.0 1)"><text font-family="Liberation Sans, sans-serif" font-size="21.3" style="font-kerning:none">Q - </text><use href="#one" transform="translate(16.57 0) scale(0.01040 -0.01009)"/><use href="#one" transform="translate(35.51 0) scale(0.01040 -0.01009)"/></g><g transform="translate(272.85 626.70) scale(1.0 1)"><text font-family="Liberation Sans, sans-serif" font-size="21.3" style="font-kerning:none">4.22%</text></g><g transform="translate(705.85 601.90) scale(1.0 1)"><text font-family="Liberation Sans, sans-serif" font-size="21.3" style="font-kerning:none">Q -2</text><use href="#one" transform="translate(16.57 0) scale(0.01040 -0.01009)"/></g><g transform="translate(705.85 626.70) scale(1.0 1)"><text font-family="Liberation Sans, sans-serif" font-size="21.3" style="font-kerning:none">2.65%</text></g><g transform="translate(272.85 1017.45) scale(1.0 1)"><text font-family="Liberation Sans, sans-serif" font-size="21.3" style="font-kerning:none">Q -3</text><use href="#one" transform="translate(16.57 0) scale(0.01040 -0.01009)"/></g><g transform="translate(272.85 1041.85) scale(1.0 1)"><text font-family="Liberation Sans, sans-serif" font-size="21.3" style="font-kerning:none">90.78%</text></g><g transform="translate(705.85 1017.45) scale(1.0 1)"><text font-family="Liberation Sans, sans-serif" font-size="21.3" style="font-kerning:none">Q -4</text><use href="#one" transform="translate(16.57 0) scale(0.01040 -0.01009)"/></g><g transform="translate(705.85 1041.85) scale(1.0 1)"><text font-family="Liberation Sans, sans-serif" font-size="21.3" style="font-kerning:none">2.35%</text></g>
<path d="M839.75 1040.19h5M839.75 1034.03h5M839.75 1028.60h5M837.25 1023.75h10.5M839.75 991.81h5M839.75 973.13h5M839.75 959.87h5M839.75 949.59h5M839.75 941.19h5M839.75 934.09h5M839.75 927.93h5M839.75 922.50h5M837.25 917.65h10.5M839.75 885.71h5M839.75 867.03h5M839.75 853.77h5M839.75 843.49h5M839.75 835.09h5M839.75 827.99h5M839.75 821.83h5M839.75 816.40h5M837.25 811.55h10.5M839.75 779.61h5M839.75 760.93h5M839.75 747.67h5M839.75 737.39h5M839.75 728.99h5M839.75 721.89h5M839.75 715.73h5M839.75 710.30h5M837.25 705.45h10.5M839.75 673.51h5M839.75 654.83h5M839.75 641.57h5M839.75 631.29h5M839.75 622.89h5M839.75 615.79h5M839.75 609.63h5M839.75 604.20h5M837.25 599.35h10.5M843.56 1047.00v-5M851.21 1047.00v-5M857.83 1047.00v-5M863.67 1047.00v-5M868.90 1049.50v-10.5M903.28 1047.00v-5M923.39 1047.00v-5M937.66 1047.00v-5M948.72 1047.00v-5M957.76 1047.00v-5M965.41 1047.00v-5M972.03 1047.00v-5M977.87 1047.00v-5M983.10 1049.50v-10.5M1017.48 1047.00v-5M1037.59 1047.00v-5M1051.86 1047.00v-5M1062.92 1047.00v-5M1071.96 1047.00v-5M1079.61 1047.00v-5M1086.23 1047.00v-5M1092.07 1047.00v-5M1097.30 1049.50v-10.5M1131.68 1047.00v-5M1151.79 1047.00v-5M1166.06 1047.00v-5M1177.12 1047.00v-5M1186.16 1047.00v-5M1193.81 1047.00v-5M1200.43 1047.00v-5M1206.27 1047.00v-5M1211.50 1049.50v-10.5M1245.88 1047.00v-5M1265.99 1047.00v-5M1280.26 1047.00v-5M1291.32 1047.00v-5M1300.36 1047.00v-5M1308.01 1047.00v-5M1314.63 1047.00v-5M1320.47 1047.00v-5M1325.70 1049.50v-10.5" stroke="#000" stroke-width="1.7" fill="none"/><path d="M1003.75 576.5V1044.5M842.25 886.25H1347.25" stroke="#000" stroke-width="2" fill="none"/><rect x="842.25" y="576.5" width="505.0" height="468.0" stroke="#000" stroke-width="2.2" fill="none"/><g transform="translate(779.35 1035.20) scale(1.0 1)"><text font-family="Liberation Sans, sans-serif" font-size="23.4" style="font-kerning:none"> 0</text><use href="#one" transform="translate(0.00 0) scale(0.01143 -0.01108)"/></g><g transform="translate(805.38 1021.60) scale(1.0 1)"><text font-family="Liberation Sans, sans-serif" font-size="20.8" style="font-kerning:none">2</text></g><g transform="translate(779.35 929.10) scale(1.0 1)"><text font-family="Liberation Sans, sans-serif" font-size="23.4" style="font-kerning:none"> 0</text><use href="#one" transform="translate(0.00 0) scale(0.01143 -0.01108)"/></g><g transform="translate(805.38 915.50) scale(1.0 1)"><text font-family="Liberation Sans, sans-serif" font-size="20.8" style="font-kerning:none">3</text></g><g transform="translate(779.35 823.00) scale(1.0 1)"><text font-family="Liberation Sans, sans-serif" font-size="23.4" style="font-kerning:none"> 0</text><use href="#one" transform="translate(0.00 0) scale(0.01143 -0.01108)"/></g><g transform="translate(805.38 809.40) scale(1.0 1)"><text font-family="Liberation Sans, sans-serif" font-size="20.8" style="font-kerning:none">4</text></g><g transform="translate(779.35 716.90) scale(1.0 1)"><text font-family="Liberation Sans, sans-serif" font-size="23.4" style="font-kerning:none"> 0</text><use href="#one" transform="translate(0.00 0) scale(0.01143 -0.01108)"/></g><g transform="translate(805.38 703.30) scale(1.0 1)"><text font-family="Liberation Sans, sans-serif" font-size="20.8" style="font-kerning:none">5</text></g><g transform="translate(779.35 610.80) scale(1.0 1)"><text font-family="Liberation Sans, sans-serif" font-size="23.4" style="font-kerning:none"> 0</text><use href="#one" transform="translate(0.00 0) scale(0.01143 -0.01108)"/></g><g transform="translate(805.38 597.20) scale(1.0 1)"><text font-family="Liberation Sans, sans-serif" font-size="20.8" style="font-kerning:none">6</text></g><g transform="translate(837.30 1089.20) scale(1.0 1)"><text font-family="Liberation Sans, sans-serif" font-size="23.4" style="font-kerning:none"> 0</text><use href="#one" transform="translate(0.00 0) scale(0.01143 -0.01108)"/></g><g transform="translate(863.33 1076.20) scale(1.0 1)"><text font-family="Liberation Sans, sans-serif" font-size="20.8" style="font-kerning:none">2</text></g><g transform="translate(951.50 1089.20) scale(1.0 1)"><text font-family="Liberation Sans, sans-serif" font-size="23.4" style="font-kerning:none"> 0</text><use href="#one" transform="translate(0.00 0) scale(0.01143 -0.01108)"/></g><g transform="translate(977.53 1076.20) scale(1.0 1)"><text font-family="Liberation Sans, sans-serif" font-size="20.8" style="font-kerning:none">3</text></g><g transform="translate(1065.70 1089.20) scale(1.0 1)"><text font-family="Liberation Sans, sans-serif" font-size="23.4" style="font-kerning:none"> 0</text><use href="#one" transform="translate(0.00 0) scale(0.01143 -0.01108)"/></g><g transform="translate(1091.73 1076.20) scale(1.0 1)"><text font-family="Liberation Sans, sans-serif" font-size="20.8" style="font-kerning:none">4</text></g><g transform="translate(1179.90 1089.20) scale(1.0 1)"><text font-family="Liberation Sans, sans-serif" font-size="23.4" style="font-kerning:none"> 0</text><use href="#one" transform="translate(0.00 0) scale(0.01143 -0.01108)"/></g><g transform="translate(1205.93 1076.20) scale(1.0 1)"><text font-family="Liberation Sans, sans-serif" font-size="20.8" style="font-kerning:none">5</text></g><g transform="translate(1294.10 1089.20) scale(1.0 1)"><text font-family="Liberation Sans, sans-serif" font-size="23.4" style="font-kerning:none"> 0</text><use href="#one" transform="translate(0.00 0) scale(0.01143 -0.01108)"/></g><g transform="translate(1320.13 1076.20) scale(1.0 1)"><text font-family="Liberation Sans, sans-serif" font-size="20.8" style="font-kerning:none">6</text></g><g transform="translate(846.85 596.40) scale(1.0 1)"><text font-family="Liberation Sans, sans-serif" font-size="21.3" style="font-kerning:none">Q - </text><use href="#one" transform="translate(16.57 0) scale(0.01040 -0.01009)"/><use href="#one" transform="translate(35.51 0) scale(0.01040 -0.01009)"/></g><g transform="translate(846.85 621.20) scale(1.0 1)"><text font-family="Liberation Sans, sans-serif" font-size="21.3" style="font-kerning:none"> 2.89%</text><use href="#one" transform="translate(0.00 0) scale(0.01040 -0.01009)"/></g><g transform="translate(1279.85 596.40) scale(1.0 1)"><text font-family="Liberation Sans, sans-serif" font-size="21.3" style="font-kerning:none">Q -2</text><use href="#one" transform="translate(16.57 0) scale(0.01040 -0.01009)"/></g><g transform="translate(1279.85 621.20) scale(1.0 1)"><text font-family="Liberation Sans, sans-serif" font-size="21.3" style="font-kerning:none">8.06%</text></g><g transform="translate(846.85 1011.70) scale(1.0 1)"><text font-family="Liberation Sans, sans-serif" font-size="21.3" style="font-kerning:none">Q -3</text><use href="#one" transform="translate(16.57 0) scale(0.01040 -0.01009)"/></g><g transform="translate(846.85 1036.10) scale(1.0 1)"><text font-family="Liberation Sans, sans-serif" font-size="21.3" style="font-kerning:none">53.86%</text></g><g transform="translate(1268.01 1011.70) scale(1.0 1)"><text font-family="Liberation Sans, sans-serif" font-size="21.3" style="font-kerning:none">Q -4</text><use href="#one" transform="translate(16.57 0) scale(0.01040 -0.01009)"/></g><g transform="translate(1268.01 1036.10) scale(1.0 1)"><text font-family="Liberation Sans, sans-serif" font-size="21.3" style="font-kerning:none">25. 9%</text><use href="#one" transform="translate(29.61 0) scale(0.01040 -0.01009)"/></g>
<text x="271.5" y="557.7" font-family="Liberation Serif, serif" font-size="36.2">control</text>
<text x="837.4" y="557.7" font-family="Liberation Serif, serif" font-size="36.2">control+NAC</text>
<text x="273.75" y="1134.3" font-family="Liberation Serif, serif" font-size="36.2">AgNPs+NAC</text>
<text x="862.05" y="1133.2" font-family="Liberation Serif, serif" font-size="36.2">AgNPs</text>
<path d="M141 204.6V1148.5H1264.4" stroke="#000" stroke-width="4.3" fill="none" stroke-linecap="round" stroke-linejoin="round"/>
<text x="66.6" y="176.9" font-family="Liberation Serif, serif" font-size="51.5">PI</text>
<text x="1279.5" y="1140" font-family="Liberation Serif, serif" font-size="51">FITC</text>
<text x="755.4" y="1227.5" font-family="Liberation Serif, serif" font-size="51">A</text>
<path d="M150.4 1260.9V2302" stroke="#000" stroke-width="4.7" fill="none"/><path d="M130.4 2302H1442.3" stroke="#000" stroke-width="5.1" fill="none"/><path d="M130.4 2302.00H151M140 2198.13H151M130.4 2094.26H151M140 1990.39H151M130.4 1886.52H151M140 1782.65H151M130.4 1678.78H151M140 1574.91H151M130.4 1471.04H151M140 1367.17H151M130.4 1263.30H151" stroke="#000" stroke-width="4.7" fill="none"/><text x="117" y="2313.70" font-family="Liberation Serif, serif" font-size="45" text-anchor="end">0</text><text x="117" y="2105.96" font-family="Liberation Serif, serif" font-size="45" text-anchor="end">10</text><text x="117" y="1898.22" font-family="Liberation Serif, serif" font-size="45" text-anchor="end">20</text><text x="117" y="1690.48" font-family="Liberation Serif, serif" font-size="45" text-anchor="end">30</text><text x="117" y="1482.74" font-family="Liberation Serif, serif" font-size="45" text-anchor="end">40</text><text x="117" y="1275.00" font-family="Liberation Serif, serif" font-size="45" text-anchor="end">50</text><path d="M231.1 2302V2246.3H393.1V2302" stroke="#000" stroke-width="4.6" fill="none" stroke-linejoin="round"/><path d="M312.1 2236.3V2256.5" stroke="#000" stroke-width="4" fill="none"/><path d="M301.8 2236.3h20.6M301.8 2256.5h20.6" stroke="#000" stroke-width="3.9" fill="none" stroke-linecap="round"/><text x="311.7" y="2229.25" font-family="Liberation Serif, serif" font-size="45.5" text-anchor="middle">b</text><text x="312.1" y="2368.7" font-family="Liberation Serif, serif" font-size="44.5" text-anchor="middle">control</text><path d="M553.2 2302V2248.5H714.4V2302" stroke="#000" stroke-width="4.6" fill="none" stroke-linejoin="round"/><path d="M633.9 2211.8V2286.3" stroke="#000" stroke-width="4" fill="none"/><path d="M623.6 2211.8h20.6M623.6 2286.3h20.6" stroke="#000" stroke-width="3.9" fill="none" stroke-linecap="round"/><text x="633.6" y="2201.9" font-family="Liberation Serif, serif" font-size="45.5" text-anchor="middle">b</text><text x="633.9" y="2368.7" font-family="Liberation Serif, serif" font-size="44.5" text-anchor="middle">control+NAC</text><path d="M875.2 2302V2242.4H1036.3V2302" stroke="#000" stroke-width="4.6" fill="none" stroke-linejoin="round"/><path d="M956.0 2220.6V2264.1" stroke="#000" stroke-width="4" fill="none"/><path d="M945.7 2220.6h20.6M945.7 2264.1h20.6" stroke="#000" stroke-width="3.9" fill="none" stroke-linecap="round"/><text x="956.7" y="2214.4" font-family="Liberation Serif, serif" font-size="45.5" text-anchor="middle">b</text><text x="956.0" y="2368.7" font-family="Liberation Serif, serif" font-size="44.5" text-anchor="middle">AgNPs+NAC</text><path d="M1197.5 2302V1496.1H1359.2V2302" stroke="#000" stroke-width="4.6" fill="none" stroke-linejoin="round"/><path d="M1278.5 1343.9V1647.9" stroke="#000" stroke-width="4" fill="none"/><path d="M1268.2 1343.9h20.6M1268.2 1647.9h20.6" stroke="#000" stroke-width="3.9" fill="none" stroke-linecap="round"/><text x="1278.5" y="1336.5" font-family="Liberation Serif, serif" font-size="45.5" text-anchor="middle">a</text><text x="1278.5" y="2368.7" font-family="Liberation Serif, serif" font-size="44.5" text-anchor="middle">AgNPs</text><path d="M312.1 2302V2321.3M633.9 2302V2321.3M956.0 2302V2321.3M1278.5 2302V2321.3" stroke="#000" stroke-width="4.4" fill="none"/><text transform="translate(45.9 1984.5) rotate(-90)" font-family="Liberation Serif, serif" font-size="54">Apoptotic rate (%)</text><text x="755" y="2493.6" font-family="Liberation Serif, serif" font-size="51.5">B</text>
</svg>
</body></html>
